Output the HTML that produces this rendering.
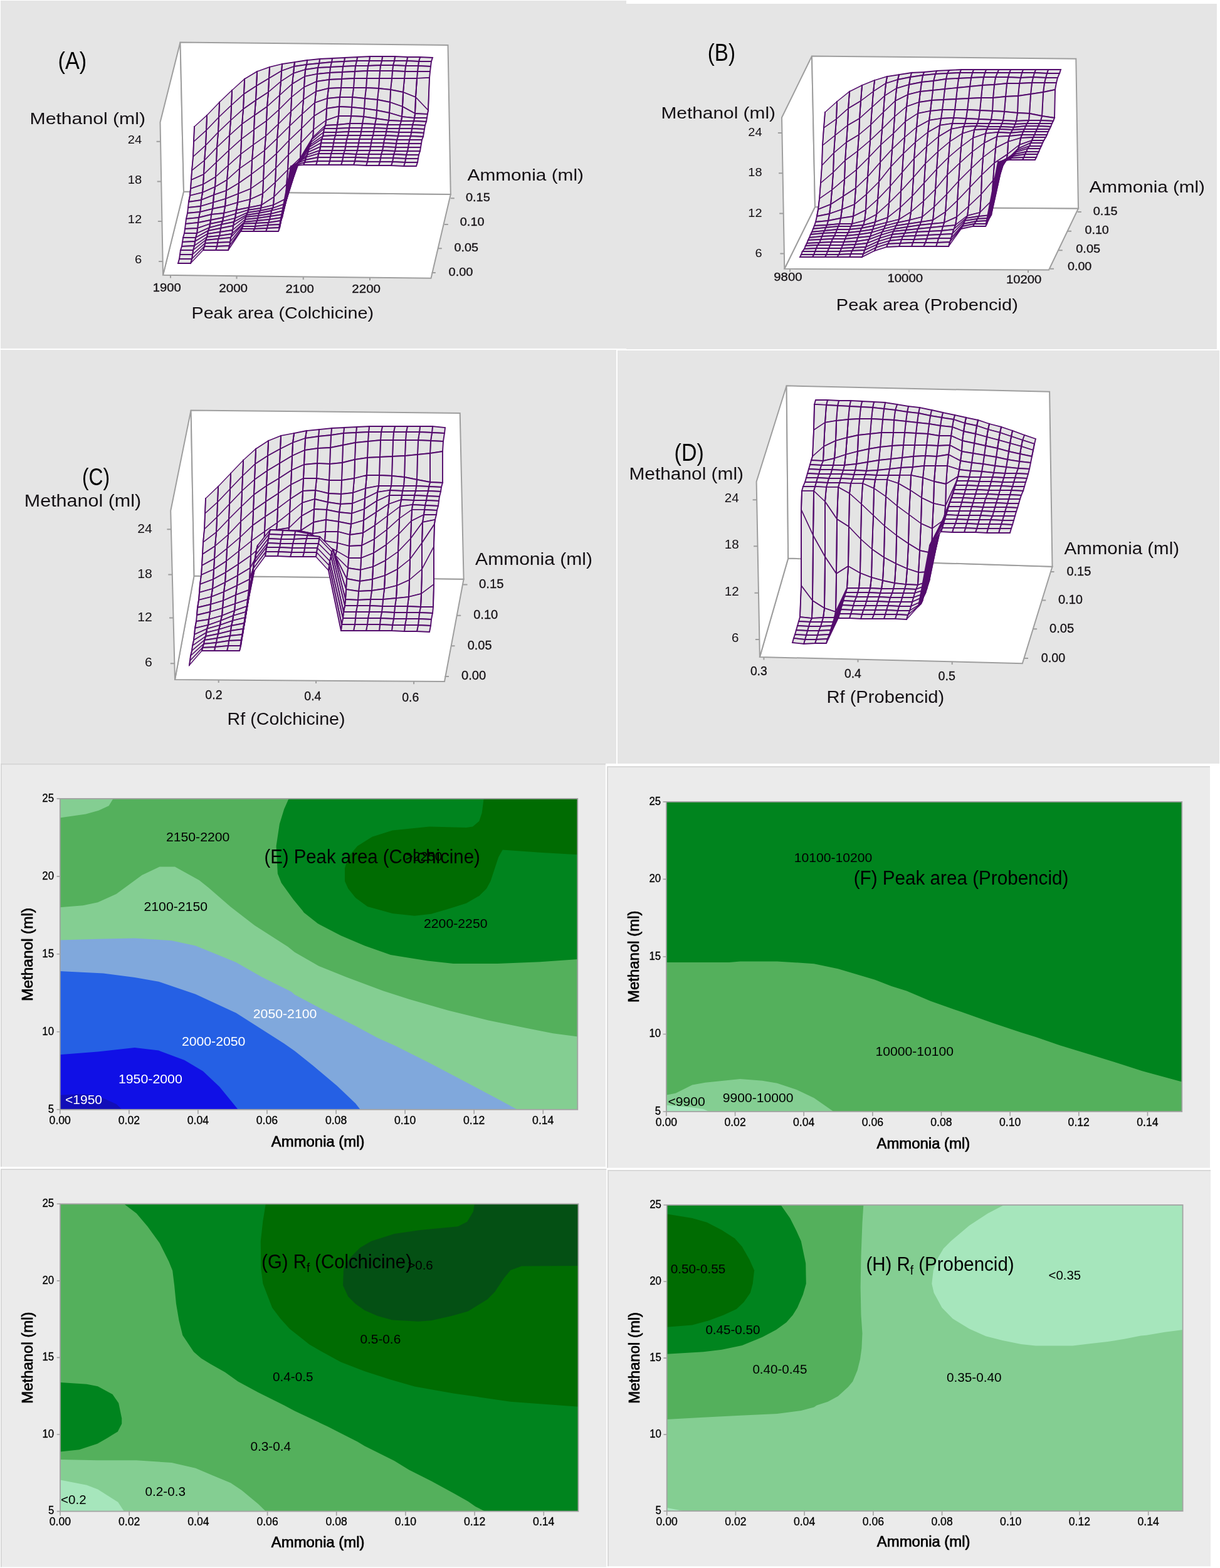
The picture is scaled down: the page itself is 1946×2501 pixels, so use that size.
<!DOCTYPE html>
<html lang="en"><head><meta charset="utf-8"><title>Surface and contour plots</title>
<style>
html,body{margin:0;padding:0;background:#fff}
svg{display:block}
text{font-family:"Liberation Sans", Arial, sans-serif}
</style></head>
<body>
<svg width="1946" height="2501" viewBox="0 0 1946 2501">
<rect width="1946" height="2501" fill="#fff"/>
<rect x="1" y="1" width="998" height="555" fill="#e5e5e5"/>
<g fill="#fff" stroke="#9e9e9e" stroke-width="2" stroke-linejoin="miter"><polygon points="260,438.8 687.5,443.8 718.8,310 293,305.5"/><polygon points="255.5,195 287.5,67.5 293,305.5 260,438.8"/><polygon points="287.5,67.5 714.5,72 718.8,310 293,305.5"/></g>
<text x="203.8" y="228.8" font-size="17.5" textLength="22.5" lengthAdjust="spacingAndGlyphs" fill="#141014">24</text><text x="203.8" y="292.5" font-size="17.5" textLength="22.5" lengthAdjust="spacingAndGlyphs" fill="#141014">18</text><text x="203.8" y="356" font-size="17.5" textLength="22.5" lengthAdjust="spacingAndGlyphs" fill="#141014">12</text><text x="215.1" y="420" font-size="17.5" textLength="11.2" lengthAdjust="spacingAndGlyphs" fill="#141014">6</text><path d="M256.1 225.8h-6.5M257.2 289.5h-6.5M258.4 353h-6.5M259.6 417h-6.5" stroke="#9e9e9e" stroke-width="2" fill="none"/>
<path d="M272 439l0 4.5M377.5 440.2l0 4.5M483.8 441.4l0 4.5M590 442.7l0 4.5" stroke="#9e9e9e" stroke-width="2" fill="none"/>
<path d="M718.8 316.3l6 0M708.8 358l6 0M698.8 396.3l6 0M688.8 435l6 0" stroke="#9e9e9e" stroke-width="2" fill="none"/>
<g stroke="#141014" stroke-width="0.3"><text x="243.8" y="465" font-size="17.5" textLength="45" lengthAdjust="spacingAndGlyphs" fill="#141014">1900</text><text x="349.3" y="465.5" font-size="17.5" textLength="45.7" lengthAdjust="spacingAndGlyphs" fill="#141014">2000</text><text x="455.5" y="467" font-size="17.5" textLength="45.3" lengthAdjust="spacingAndGlyphs" fill="#141014">2100</text><text x="561.3" y="467" font-size="17.5" textLength="45.7" lengthAdjust="spacingAndGlyphs" fill="#141014">2200</text><text x="743" y="321.3" font-size="17.5" textLength="38.8" lengthAdjust="spacingAndGlyphs" fill="#141014">0.15</text><text x="733.8" y="360" font-size="17.5" textLength="38.7" lengthAdjust="spacingAndGlyphs" fill="#141014">0.10</text><text x="724.5" y="401.3" font-size="17.5" textLength="38.5" lengthAdjust="spacingAndGlyphs" fill="#141014">0.05</text><text x="715.5" y="440" font-size="17.5" textLength="39" lengthAdjust="spacingAndGlyphs" fill="#141014">0.00</text></g>
<text x="47.5" y="197.5" font-size="25" textLength="184.5" lengthAdjust="spacingAndGlyphs" fill="#141014">Methanol (ml)</text>
<text x="745.5" y="288" font-size="25" textLength="185.5" lengthAdjust="spacingAndGlyphs" fill="#141014">Ammonia (ml)</text>
<text x="305.5" y="508" font-size="25" textLength="290.5" lengthAdjust="spacingAndGlyphs" fill="#141014">Peak area (Colchicine)</text>
<text x="92.5" y="110" font-size="38" textLength="45.8" lengthAdjust="spacingAndGlyphs">(A)</text>
<g fill="#e4e4e4" stroke="#540c6d" stroke-width="1.9" stroke-linecap="square"><path d="M668 98L688 98L690 92L670 91Z"/><path d="M649 97L668 98L670 91L650 91Z"/><path d="M629 97L649 97L650 91L630 90Z"/><path d="M609 97L629 97L630 90L610 90Z"/><path d="M589 97L609 97L610 90L590 90Z"/><path d="M569 97L589 97L590 90L570 91Z"/><path d="M549 98L569 97L570 91L550 92Z"/><path d="M529 99L549 98L550 92L530 93Z"/><path d="M509 101L529 99L530 93L510 94Z"/><path d="M489 103L509 101L510 94L490 96Z"/><path d="M469 106L489 103L490 96L470 99Z"/><path d="M449 113L469 106L470 99L450 102Z" stroke-width="1.8"/><path d="M449 113L450 102M469 106L470 99"/><path d="M429 125L449 113L450 102L430 107Z" stroke-width="1.6"/><path d="M429 125L430 107M449 113L450 102"/><path d="M409 137L429 125L430 107L410 114Z" stroke-width="1.6"/><path d="M409 137L410 114M429 125L430 107"/><path d="M389 150L409 137L410 114L390 126Z" stroke-width="1.6"/><path d="M389 150L390 126M409 137L410 114"/><path d="M369 168L389 150L390 126L370 144Z" stroke-width="1.4"/><path d="M369 168L370 144M389 150L390 126"/><path d="M349 187L369 168L370 144L350 163Z" stroke-width="1.4"/><path d="M349 187L350 163M369 168L370 144"/><path d="M329 208L349 187L350 163L330 184Z" stroke-width="1.4"/><path d="M329 208L330 184M349 187L350 163"/><path d="M309 226L329 208L330 184L310 202Z" stroke-width="1.4"/><path d="M309 226L310 202M329 208L330 184"/><path d="M667 105L687 106L688 98L668 98Z"/><path d="M647 105L667 105L668 98L649 97Z"/><path d="M627 104L647 105L649 97L629 97Z"/><path d="M607 104L627 104L629 97L609 97Z"/><path d="M587 105L607 104L609 97L589 97Z"/><path d="M567 105L587 105L589 97L569 97Z"/><path d="M547 106L567 105L569 97L549 98Z"/><path d="M527 107L547 106L549 98L529 99Z"/><path d="M507 108L527 107L529 99L509 101Z"/><path d="M487 111L507 108L509 101L489 103Z"/><path d="M468 117L487 111L489 103L469 106Z" stroke-width="1.8"/><path d="M468 117L469 106M487 111L489 103"/><path d="M448 130L468 117L469 106L449 113Z" stroke-width="1.6"/><path d="M448 130L449 113M468 117L469 106"/><path d="M428 147L448 130L449 113L429 125Z" stroke-width="1.5"/><path d="M428 147L429 125M448 130L449 113"/><path d="M408 160L428 147L429 125L409 137Z" stroke-width="1.6"/><path d="M408 160L409 137M428 147L429 125"/><path d="M388 174L408 160L409 137L389 150Z" stroke-width="1.6"/><path d="M388 174L389 150M408 160L409 137"/><path d="M368 192L388 174L389 150L369 168Z" stroke-width="1.4"/><path d="M368 192L369 168M388 174L389 150"/><path d="M348 211L368 192L369 168L349 187Z" stroke-width="1.4"/><path d="M348 211L349 187M368 192L369 168"/><path d="M328 232L348 211L349 187L329 208Z" stroke-width="1.4"/><path d="M328 232L329 208M348 211L349 187"/><path d="M308 250L328 232L329 208L309 226Z" stroke-width="1.4"/><path d="M308 250L309 226M328 232L329 208"/><path d="M666 114L686 114L687 106L667 105Z"/><path d="M646 114L666 114L667 105L647 105Z"/><path d="M626 113L646 114L647 105L627 104Z"/><path d="M606 113L626 113L627 104L607 104Z"/><path d="M586 113L606 113L607 104L587 105Z"/><path d="M566 114L586 113L587 105L567 105Z"/><path d="M546 115L566 114L567 105L547 106Z"/><path d="M526 116L546 115L547 106L527 107Z"/><path d="M506 118L526 116L527 107L507 108Z"/><path d="M486 122L506 118L507 108L487 111Z" stroke-width="1.8"/><path d="M486 122L487 111M506 118L507 108"/><path d="M466 134L486 122L487 111L468 117Z" stroke-width="1.7"/><path d="M466 134L468 117M486 122L487 111"/><path d="M446 152L466 134L468 117L448 130Z" stroke-width="1.4"/><path d="M446 152L448 130M466 134L468 117"/><path d="M426 170L446 152L448 130L428 147Z" stroke-width="1.4"/><path d="M426 170L428 147M446 152L448 130"/><path d="M406 184L426 170L428 147L408 160Z" stroke-width="1.6"/><path d="M406 184L408 160M426 170L428 147"/><path d="M386 198L406 184L408 160L388 174Z" stroke-width="1.6"/><path d="M386 198L388 174M406 184L408 160"/><path d="M366 216L386 198L388 174L368 192Z" stroke-width="1.4"/><path d="M366 216L368 192M386 198L388 174"/><path d="M346 235L366 216L368 192L348 211Z" stroke-width="1.4"/><path d="M346 235L348 211M366 216L368 192"/><path d="M326 256L346 235L348 211L328 232Z" stroke-width="1.4"/><path d="M326 256L328 232M346 235L348 211"/><path d="M306 272L326 256L328 232L308 250Z" stroke-width="1.4"/><path d="M306 272L308 250M326 256L328 232"/><path d="M665 125L685 124L686 114L666 114Z"/><path d="M645 125L665 125L666 114L646 114Z"/><path d="M625 125L645 125L646 114L626 113Z"/><path d="M605 125L625 125L626 113L606 113Z"/><path d="M585 125L605 125L606 113L586 113Z"/><path d="M565 125L585 125L586 113L566 114Z"/><path d="M545 126L565 125L566 114L546 115Z"/><path d="M525 127L545 126L546 115L526 116Z"/><path d="M505 130L525 127L526 116L506 118Z"/><path d="M485 139L505 130L506 118L486 122Z" stroke-width="1.7"/><path d="M485 139L486 122M505 130L506 118"/><path d="M465 155L485 139L486 122L466 134Z" stroke-width="1.5"/><path d="M465 155L466 134M485 139L486 122"/><path d="M445 175L465 155L466 134L446 152Z" stroke-width="1.4"/><path d="M445 175L446 152M465 155L466 134"/><path d="M425 193L445 175L446 152L426 170Z" stroke-width="1.4"/><path d="M425 193L426 170M445 175L446 152"/><path d="M405 207L425 193L426 170L406 184Z" stroke-width="1.6"/><path d="M405 207L406 184M425 193L426 170"/><path d="M385 222L405 207L406 184L386 198Z" stroke-width="1.5"/><path d="M385 222L386 198M405 207L406 184"/><path d="M365 240L385 222L386 198L366 216Z" stroke-width="1.4"/><path d="M365 240L366 216M385 222L386 198"/><path d="M345 259L365 240L366 216L346 235Z" stroke-width="1.4"/><path d="M345 259L346 235M365 240L366 216"/><path d="M325 278L345 259L346 235L326 256Z" stroke-width="1.4"/><path d="M325 278L326 256M345 259L346 235"/><path d="M305 287L325 278L326 256L306 272Z" stroke-width="1.5"/><path d="M305 287L306 272M325 278L326 256"/><path d="M663 155L683 176L685 124L665 125Z" stroke-width="1.4"/><path d="M663 155L665 125M683 176L685 124"/><path d="M643 147L663 155L665 125L645 125Z" stroke-width="1.8"/><path d="M643 147L645 125M663 155L665 125"/><path d="M623 143L643 147L645 125L625 125Z"/><path d="M604 141L623 143L625 125L605 125Z"/><path d="M584 140L604 141L605 125L585 125Z"/><path d="M564 140L584 140L585 125L565 125Z"/><path d="M544 140L564 140L565 125L545 126Z"/><path d="M524 141L544 140L545 126L525 127Z"/><path d="M504 146L524 141L525 127L505 130Z"/><path d="M484 159L504 146L505 130L485 139Z" stroke-width="1.6"/><path d="M484 159L485 139M504 146L505 130"/><path d="M464 178L484 159L485 139L465 155Z" stroke-width="1.4"/><path d="M464 178L465 155M484 159L485 139"/><path d="M444 198L464 178L465 155L445 175Z" stroke-width="1.4"/><path d="M444 198L445 175M464 178L465 155"/><path d="M424 217L444 198L445 175L425 193Z" stroke-width="1.4"/><path d="M424 217L425 193M444 198L445 175"/><path d="M404 231L424 217L425 193L405 207Z" stroke-width="1.5"/><path d="M404 231L405 207M424 217L425 193"/><path d="M384 246L404 231L405 207L385 222Z" stroke-width="1.5"/><path d="M384 246L385 222M404 231L405 207"/><path d="M364 264L384 246L385 222L365 240Z" stroke-width="1.4"/><path d="M364 264L365 240M384 246L385 222"/><path d="M344 282L364 264L365 240L345 259Z" stroke-width="1.4"/><path d="M344 282L345 259M364 264L365 240"/><path d="M324 294L344 282L345 259L325 278Z" stroke-width="1.4"/><path d="M324 294L325 278M344 282L345 259"/><path d="M304 301L324 294L325 278L305 287Z" stroke-width="1.7"/><path d="M304 301L305 287M324 294L325 278"/><path d="M662 181L682 182L683 176L663 155Z" stroke-width="1.4"/><path d="M662 181L663 155M682 182L683 176"/><path d="M642 170L662 181L663 155L643 147Z" stroke-width="1.7"/><path d="M642 170L643 147M662 181L663 155"/><path d="M622 163L642 170L643 147L623 143Z" stroke-width="1.8"/><path d="M622 163L623 143M642 170L643 147"/><path d="M602 159L622 163L623 143L604 141Z"/><path d="M582 157L602 159L604 141L584 140Z"/><path d="M562 155L582 157L584 140L564 140Z"/><path d="M542 155L562 155L564 140L544 140Z"/><path d="M522 157L542 155L544 140L524 141Z"/><path d="M502 164L522 157L524 141L504 146Z" stroke-width="1.8"/><path d="M502 164L504 146M522 157L524 141"/><path d="M482 182L502 164L504 146L484 159Z" stroke-width="1.4"/><path d="M482 182L484 159M502 164L504 146"/><path d="M462 201L482 182L484 159L464 178Z" stroke-width="1.4"/><path d="M462 201L464 178M482 182L484 159"/><path d="M442 221L462 201L464 178L444 198Z" stroke-width="1.4"/><path d="M442 221L444 198M462 201L464 178"/><path d="M422 240L442 221L444 198L424 217Z" stroke-width="1.4"/><path d="M422 240L424 217M442 221L444 198"/><path d="M402 255L422 240L424 217L404 231Z" stroke-width="1.5"/><path d="M402 255L404 231M422 240L424 217"/><path d="M382 269L402 255L404 231L384 246Z" stroke-width="1.5"/><path d="M382 269L384 246M402 255L404 231"/><path d="M362 287L382 269L384 246L364 264Z" stroke-width="1.4"/><path d="M362 287L364 264M382 269L384 246"/><path d="M343 298L362 287L364 264L344 282Z" stroke-width="1.4"/><path d="M343 298L344 282M362 287L364 264"/><path d="M323 307L343 298L344 282L324 294Z" stroke-width="1.6"/><path d="M323 307L324 294M343 298L344 282"/><path d="M303 312L323 307L324 294L304 301Z" stroke-width="1.8"/><path d="M303 312L304 301M323 307L324 294"/><path d="M661 188L681 188L682 182L662 181Z"/><path d="M641 186L661 188L662 181L642 170Z" stroke-width="1.7"/><path d="M641 186L642 170M661 188L662 181"/><path d="M621 180L641 186L642 170L622 163Z" stroke-width="1.8"/><path d="M621 180L622 163M641 186L642 170"/><path d="M601 176L621 180L622 163L602 159Z"/><path d="M581 173L601 176L602 159L582 157Z"/><path d="M561 171L581 173L582 157L562 155Z"/><path d="M541 170L561 171L562 155L542 155Z"/><path d="M521 173L541 170L542 155L522 157Z"/><path d="M501 185L521 173L522 157L502 164Z" stroke-width="1.6"/><path d="M501 185L502 164M521 173L522 157"/><path d="M481 205L501 185L502 164L482 182Z" stroke-width="1.4"/><path d="M481 205L482 182M501 185L502 164"/><path d="M461 224L481 205L482 182L462 201Z" stroke-width="1.4"/><path d="M461 224L462 201M481 205L482 182"/><path d="M441 245L461 224L462 201L442 221Z" stroke-width="1.4"/><path d="M441 245L442 221M461 224L462 201"/><path d="M421 263L441 245L442 221L422 240Z" stroke-width="1.4"/><path d="M421 263L422 240M441 245L442 221"/><path d="M401 278L421 263L422 240L402 255Z" stroke-width="1.5"/><path d="M401 278L402 255M421 263L422 240"/><path d="M381 292L401 278L402 255L382 269Z" stroke-width="1.5"/><path d="M381 292L382 269M401 278L402 255"/><path d="M361 304L381 292L382 269L362 287Z" stroke-width="1.4"/><path d="M361 304L362 287M381 292L382 269"/><path d="M341 311L361 304L362 287L343 298Z" stroke-width="1.7"/><path d="M341 311L343 298M361 304L362 287"/><path d="M321 319L341 311L343 298L323 307Z" stroke-width="1.7"/><path d="M321 319L323 307M341 311L343 298"/><path d="M301 322L321 319L323 307L303 312Z" stroke-width="1.8"/><path d="M301 322L303 312M321 319L323 307"/><path d="M660 193L680 194L681 188L661 188Z"/><path d="M640 193L660 193L661 188L641 186Z"/><path d="M620 192L640 193L641 186L621 180Z" stroke-width="1.8"/><path d="M620 192L621 180M640 193L641 186"/><path d="M600 189L620 192L621 180L601 176Z"/><path d="M580 186L600 189L601 176L581 173Z"/><path d="M560 185L580 186L581 173L561 171Z"/><path d="M540 185L560 185L561 171L541 170Z"/><path d="M520 192L540 185L541 170L521 173Z" stroke-width="1.8"/><path d="M520 192L521 173M540 185L541 170"/><path d="M500 207L520 192L521 173L501 185Z" stroke-width="1.5"/><path d="M500 207L501 185M520 192L521 173"/><path d="M480 228L500 207L501 185L481 205Z" stroke-width="1.4"/><path d="M480 228L481 205M500 207L501 185"/><path d="M460 247L480 228L481 205L461 224Z" stroke-width="1.4"/><path d="M460 247L461 224M480 228L481 205"/><path d="M440 268L460 247L461 224L441 245Z" stroke-width="1.4"/><path d="M440 268L441 245M460 247L461 224"/><path d="M420 287L440 268L441 245L421 263Z" stroke-width="1.4"/><path d="M420 287L421 263M440 268L441 245"/><path d="M400 301L420 287L421 263L401 278Z" stroke-width="1.5"/><path d="M400 301L401 278M420 287L421 263"/><path d="M380 309L400 301L401 278L381 292Z" stroke-width="1.6"/><path d="M380 309L381 292M400 301L401 278"/><path d="M360 317L380 309L381 292L361 304Z" stroke-width="1.7"/><path d="M360 317L361 304M380 309L381 292"/><path d="M340 323L360 317L361 304L341 311Z" stroke-width="1.8"/><path d="M340 323L341 311M360 317L361 304"/><path d="M320 329L340 323L341 311L321 319Z" stroke-width="1.8"/><path d="M320 329L321 319M340 323L341 311"/><path d="M300 331L320 329L321 319L301 322Z"/><path d="M658 199L678 200L680 194L660 193Z"/><path d="M638 199L658 199L660 193L640 193Z"/><path d="M618 199L638 199L640 193L620 192Z"/><path d="M598 198L618 199L620 192L600 189Z"/><path d="M578 197L598 198L600 189L580 186Z"/><path d="M558 197L578 197L580 186L560 185Z"/><path d="M538 199L558 197L560 185L540 185Z"/><path d="M519 200L538 199L540 185L520 192Z" stroke-width="1.8"/><path d="M519 200L520 192M538 199L540 185"/><path d="M499 219L519 200L520 192L500 207Z" stroke-width="1.3"/><path d="M499 219L500 207M519 200L520 192"/><path d="M479 252L499 219L500 207L480 228Z" stroke-width="1.4"/><path d="M479 252L480 228M499 219L500 207"/><path d="M459 271L479 252L480 228L460 247Z" stroke-width="1.4"/><path d="M459 271L460 247M479 252L480 228"/><path d="M439 291L459 271L460 247L440 268Z" stroke-width="1.4"/><path d="M439 291L440 268M459 271L460 247"/><path d="M419 309L439 291L440 268L420 287Z" stroke-width="1.4"/><path d="M419 309L420 287M439 291L440 268"/><path d="M399 318L419 309L420 287L400 301Z" stroke-width="1.5"/><path d="M399 318L400 301M419 309L420 287"/><path d="M379 323L399 318L400 301L380 309Z" stroke-width="1.7"/><path d="M379 323L380 309M399 318L400 301"/><path d="M359 329L379 323L380 309L360 317Z" stroke-width="1.8"/><path d="M359 329L360 317M379 323L380 309"/><path d="M339 333L359 329L360 317L340 323Z" stroke-width="1.8"/><path d="M339 333L340 323M359 329L360 317"/><path d="M319 338L339 333L340 323L320 329Z" stroke-width="1.8"/><path d="M319 338L320 329M339 333L340 323"/><path d="M299 340L319 338L320 329L300 331Z"/><path d="M657 205L677 206L678 200L658 199Z"/><path d="M637 205L657 205L658 199L638 199Z"/><path d="M617 205L637 205L638 199L618 199Z"/><path d="M597 204L617 205L618 199L598 198Z"/><path d="M577 204L597 204L598 198L578 197Z"/><path d="M557 204L577 204L578 197L558 197Z"/><path d="M537 205L557 204L558 197L538 199Z"/><path d="M517 205L537 205L538 199L519 200Z"/><path d="M497 223L517 205L519 200L499 219Z" stroke-width="1.3"/><path d="M497 223L499 219M517 205L519 200"/><path d="M477 260L497 223L499 219L479 252Z" stroke-width="1.6"/><path d="M477 260L479 252M497 223L499 219"/><path d="M457 294L477 260L479 252L459 271Z" stroke-width="1.4"/><path d="M457 294L459 271M477 260L479 252"/><path d="M437 314L457 294L459 271L439 291Z" stroke-width="1.4"/><path d="M437 314L439 291M457 294L459 271"/><path d="M417 327L437 314L439 291L419 309Z" stroke-width="1.4"/><path d="M417 327L419 309M437 314L439 291"/><path d="M397 331L417 327L419 309L399 318Z" stroke-width="1.7"/><path d="M397 331L399 318M417 327L419 309"/><path d="M377 335L397 331L399 318L379 323Z" stroke-width="1.8"/><path d="M377 335L379 323M397 331L399 318"/><path d="M357 340L377 335L379 323L359 329Z" stroke-width="1.8"/><path d="M357 340L359 329M377 335L379 323"/><path d="M337 342L357 340L359 329L339 333Z"/><path d="M317 347L337 342L339 333L319 338Z"/><path d="M297 349L317 347L319 338L299 340Z"/><path d="M656 211L676 212L677 206L657 205Z"/><path d="M636 211L656 211L657 205L637 205Z"/><path d="M616 210L636 211L637 205L617 205Z"/><path d="M596 210L616 210L617 205L597 204Z"/><path d="M576 210L596 210L597 204L577 204Z"/><path d="M556 210L576 210L577 204L557 204Z"/><path d="M536 211L556 210L557 204L537 205Z"/><path d="M516 211L536 211L537 205L517 205Z"/><path d="M496 227L516 211L517 205L497 223Z" stroke-width="1.4"/><path d="M496 227L497 223M516 211L517 205"/><path d="M476 261L496 227L497 223L477 260Z" stroke-width="1.6"/><path d="M476 261L477 260M496 227L497 223" stroke-width="1.8"/><path d="M456 317L476 261L477 260L457 294Z" stroke-width="1.6"/><path d="M456 317L457 294M476 261L477 260"/><path d="M436 327L456 317L457 294L437 314Z" stroke-width="1.4"/><path d="M436 327L437 314M456 317L457 294"/><path d="M416 332L436 327L437 314L417 327Z" stroke-width="1.6"/><path d="M416 332L417 327M436 327L437 314"/><path d="M396 335L416 332L417 327L397 331Z" stroke-width="1.8"/><path d="M396 335L397 331M416 332L417 327"/><path d="M376 341L396 335L397 331L377 335Z" stroke-width="1.8"/><path d="M376 341L377 335M396 335L397 331"/><path d="M356 347L376 341L377 335L357 340Z" stroke-width="1.8"/><path d="M356 347L357 340M376 341L377 335"/><path d="M336 351L356 347L357 340L337 342Z"/><path d="M316 355L336 351L337 342L317 347Z"/><path d="M296 357L316 355L317 347L297 349Z"/><path d="M655 217L675 218L676 212L656 211Z"/><path d="M635 217L655 217L656 211L636 211Z"/><path d="M615 216L635 217L636 211L616 210Z"/><path d="M595 216L615 216L616 210L596 210Z"/><path d="M575 216L595 216L596 210L576 210Z"/><path d="M555 216L575 216L576 210L556 210Z"/><path d="M535 216L555 216L556 210L536 211Z"/><path d="M515 217L535 216L536 211L516 211Z"/><path d="M495 231L515 217L516 211L496 227Z" stroke-width="1.5"/><path d="M495 231L496 227M515 217L516 211"/><path d="M475 261L495 231L496 227L476 261Z" stroke-width="1.6"/><path d="M475 261L476 261M495 231L496 227" stroke-width="1.8"/><path d="M455 325L475 261L476 261L456 317Z" stroke-width="1.8"/><path d="M455 325L456 317M475 261L476 261"/><path d="M435 332L455 325L456 317L436 327Z" stroke-width="1.7"/><path d="M435 332L436 327M455 325L456 317"/><path d="M415 336L435 332L436 327L416 332Z" stroke-width="1.8"/><path d="M395 339L415 336L416 332L396 335Z"/><path d="M375 348L395 339L396 335L376 341Z" stroke-width="1.7"/><path d="M375 348L376 341M395 339L396 335"/><path d="M355 353L375 348L376 341L356 347Z" stroke-width="1.8"/><path d="M355 353L356 347M375 348L376 341"/><path d="M335 357L355 353L356 347L336 351Z" stroke-width="1.8"/><path d="M335 357L336 351M355 353L356 347"/><path d="M315 364L335 357L336 351L316 355Z" stroke-width="1.8"/><path d="M315 364L316 355M335 357L336 351"/><path d="M295 365L315 364L316 355L296 357Z"/><path d="M653 223L673 223L675 218L655 217Z"/><path d="M633 223L653 223L655 217L635 217Z"/><path d="M613 222L633 223L635 217L615 216Z"/><path d="M593 222L613 222L615 216L595 216Z"/><path d="M573 222L593 222L595 216L575 216Z"/><path d="M553 222L573 222L575 216L555 216Z"/><path d="M533 222L553 222L555 216L535 216Z"/><path d="M513 222L533 222L535 216L515 217Z"/><path d="M493 235L513 222L515 217L495 231Z" stroke-width="1.5"/><path d="M493 235L495 231M513 222L515 217"/><path d="M473 262L493 235L495 231L475 261Z" stroke-width="1.5"/><path d="M473 262L475 261M493 235L495 231" stroke-width="1.8"/><path d="M453 331L473 262L475 261L455 325Z" stroke-width="1.8"/><path d="M433 336L453 331L455 325L435 332Z" stroke-width="1.8"/><path d="M413 340L433 336L435 332L415 336Z" stroke-width="1.8"/><path d="M393 343L413 340L415 336L395 339Z"/><path d="M373 354L393 343L395 339L375 348Z" stroke-width="1.7"/><path d="M373 354L375 348M393 343L395 339"/><path d="M353 358L373 354L375 348L355 353Z" stroke-width="1.8"/><path d="M353 358L355 353M373 354L375 348"/><path d="M334 363L353 358L355 353L335 357Z" stroke-width="1.8"/><path d="M334 363L335 357M353 358L355 353"/><path d="M314 372L334 363L335 357L315 364Z" stroke-width="1.7"/><path d="M314 372L315 364M334 363L335 357"/><path d="M294 372L314 372L315 364L295 365Z"/><path d="M652 229L672 229L673 223L653 223Z"/><path d="M632 229L652 229L653 223L633 223Z"/><path d="M612 228L632 229L633 223L613 222Z"/><path d="M592 228L612 228L613 222L593 222Z"/><path d="M572 228L592 228L593 222L573 222Z"/><path d="M552 228L572 228L573 222L553 222Z"/><path d="M532 228L552 228L553 222L533 222Z"/><path d="M512 228L532 228L533 222L513 222Z"/><path d="M492 239L512 228L513 222L493 235Z" stroke-width="1.6"/><path d="M492 239L493 235M512 228L513 222"/><path d="M472 262L492 239L493 235L473 262Z" stroke-width="1.4"/><path d="M472 262L473 262M492 239L493 235" stroke-width="1.8"/><path d="M452 336L472 262L473 262L453 331Z" stroke-width="1.8"/><path d="M432 341L452 336L453 331L433 336Z" stroke-width="1.8"/><path d="M412 344L432 341L433 336L413 340Z"/><path d="M392 346L412 344L413 340L393 343Z"/><path d="M372 360L392 346L393 343L373 354Z" stroke-width="1.6"/><path d="M372 360L373 354M392 346L393 343"/><path d="M352 364L372 360L373 354L353 358Z"/><path d="M332 368L352 364L353 358L334 363Z"/><path d="M312 379L332 368L334 363L314 372Z" stroke-width="1.7"/><path d="M312 379L314 372M332 368L334 363"/><path d="M292 379L312 379L314 372L294 372Z"/><path d="M651 235L671 235L672 229L652 229Z"/><path d="M631 235L651 235L652 229L632 229Z"/><path d="M611 234L631 235L632 229L612 228Z"/><path d="M591 234L611 234L612 228L592 228Z"/><path d="M571 234L591 234L592 228L572 228Z"/><path d="M551 234L571 234L572 228L552 228Z"/><path d="M531 234L551 234L552 228L532 228Z"/><path d="M511 234L531 234L532 228L512 228Z"/><path d="M491 243L511 234L512 228L492 239Z" stroke-width="1.7"/><path d="M491 243L492 239M511 234L512 228"/><path d="M471 263L491 243L492 239L472 262Z" stroke-width="1.4"/><path d="M471 263L472 262M491 243L492 239" stroke-width="1.8"/><path d="M451 342L471 263L472 262L452 336Z" stroke-width="1.8"/><path d="M431 345L451 342L452 336L432 341Z"/><path d="M411 348L431 345L432 341L412 344Z"/><path d="M391 350L411 348L412 344L392 346Z"/><path d="M371 367L391 350L392 346L372 360Z" stroke-width="1.5"/><path d="M371 367L372 360M391 350L392 346"/><path d="M351 370L371 367L372 360L352 364Z"/><path d="M331 373L351 370L352 364L332 368Z"/><path d="M311 385L331 373L332 368L312 379Z" stroke-width="1.6"/><path d="M311 385L312 379M331 373L332 368"/><path d="M291 386L311 385L312 379L292 379Z"/><path d="M650 241L670 241L671 235L651 235Z"/><path d="M630 241L650 241L651 235L631 235Z"/><path d="M610 240L630 241L631 235L611 234Z"/><path d="M590 240L610 240L611 234L591 234Z"/><path d="M570 240L590 240L591 234L571 234Z"/><path d="M550 240L570 240L571 234L551 234Z"/><path d="M530 240L550 240L551 234L531 234Z"/><path d="M510 240L530 240L531 234L511 234Z"/><path d="M490 247L510 240L511 234L491 243Z" stroke-width="1.7"/><path d="M490 247L491 243M510 240L511 234"/><path d="M470 263L490 247L491 243L471 263Z" stroke-width="1.4"/><path d="M470 263L471 263M490 247L491 243" stroke-width="1.8"/><path d="M450 347L470 263L471 263L451 342Z" stroke-width="1.8"/><path d="M430 350L450 347L451 342L431 345Z"/><path d="M410 352L430 350L431 345L411 348Z"/><path d="M390 354L410 352L411 348L391 350Z"/><path d="M370 373L390 354L391 350L371 367Z" stroke-width="1.4"/><path d="M370 373L371 367M390 354L391 350"/><path d="M350 376L370 373L371 367L351 370Z"/><path d="M330 378L350 376L351 370L331 373Z"/><path d="M310 392L330 378L331 373L311 385Z" stroke-width="1.5"/><path d="M310 392L311 385M330 378L331 373"/><path d="M290 393L310 392L311 385L291 386Z"/><path d="M648 247L668 247L670 241L650 241Z"/><path d="M628 246L648 247L650 241L630 241Z"/><path d="M608 246L628 246L630 241L610 240Z"/><path d="M588 246L608 246L610 240L590 240Z"/><path d="M568 246L588 246L590 240L570 240Z"/><path d="M548 245L568 246L570 240L550 240Z"/><path d="M528 245L548 245L550 240L530 240Z"/><path d="M508 245L528 245L530 240L510 240Z"/><path d="M488 251L508 245L510 240L490 247Z" stroke-width="1.8"/><path d="M488 251L490 247M508 245L510 240"/><path d="M468 264L488 251L490 247L470 263Z" stroke-width="1.5"/><path d="M468 264L470 263M488 251L490 247" stroke-width="1.8"/><path d="M448 352L468 264L470 263L450 347Z" stroke-width="1.8"/><path d="M428 355L448 352L450 347L430 350Z"/><path d="M408 356L428 355L430 350L410 352Z"/><path d="M388 357L408 356L410 352L390 354Z"/><path d="M368 379L388 357L390 354L370 373Z" stroke-width="1.4"/><path d="M368 379L370 373M388 357L390 354"/><path d="M348 381L368 379L370 373L350 376Z"/><path d="M328 383L348 381L350 376L330 378Z"/><path d="M308 399L328 383L330 378L310 392Z" stroke-width="1.5"/><path d="M308 399L310 392M328 383L330 378"/><path d="M288 399L308 399L310 392L290 393Z"/><path d="M647 253L667 253L668 247L648 247Z"/><path d="M627 252L647 253L648 247L628 246Z"/><path d="M607 252L627 252L628 246L608 246Z"/><path d="M587 252L607 252L608 246L588 246Z"/><path d="M567 251L587 252L588 246L568 246Z"/><path d="M547 251L567 251L568 246L548 245Z"/><path d="M527 251L547 251L548 245L528 245Z"/><path d="M507 251L527 251L528 245L508 245Z"/><path d="M487 255L507 251L508 245L488 251Z" stroke-width="1.8"/><path d="M487 255L488 251M507 251L508 245"/><path d="M467 264L487 255L488 251L468 264Z" stroke-width="1.6"/><path d="M467 264L468 264M487 255L488 251" stroke-width="1.8"/><path d="M447 358L467 264L468 264L448 352Z"/><path d="M427 359L447 358L448 352L428 355Z"/><path d="M407 361L427 359L428 355L408 356Z"/><path d="M387 361L407 361L408 356L388 357Z"/><path d="M367 386L387 361L388 357L368 379Z" stroke-width="1.4"/><path d="M367 386L368 379M387 361L388 357"/><path d="M347 387L367 386L368 379L348 381Z"/><path d="M327 388L347 387L348 381L328 383Z"/><path d="M307 406L327 388L328 383L308 399Z" stroke-width="1.4"/><path d="M307 406L308 399M327 388L328 383"/><path d="M287 406L307 406L308 399L288 399Z"/><path d="M646 259L666 259L667 253L647 253Z"/><path d="M626 258L646 259L647 253L627 252Z"/><path d="M606 258L626 258L627 252L607 252Z"/><path d="M586 258L606 258L607 252L587 252Z"/><path d="M566 257L586 258L587 252L567 251Z"/><path d="M546 257L566 257L567 251L547 251Z"/><path d="M526 257L546 257L547 251L527 251Z"/><path d="M506 257L526 257L527 251L507 251Z"/><path d="M486 259L506 257L507 251L487 255Z"/><path d="M466 265L486 259L487 255L467 264Z" stroke-width="1.7"/><path d="M466 265L467 264M486 259L487 255" stroke-width="1.8"/><path d="M446 363L466 265L467 264L447 358Z"/><path d="M426 364L446 363L447 358L427 359Z"/><path d="M406 365L426 364L427 359L407 361Z"/><path d="M386 365L406 365L407 361L387 361Z"/><path d="M366 392L386 365L387 361L367 386Z" stroke-width="1.5"/><path d="M366 392L367 386M386 365L387 361"/><path d="M346 393L366 392L367 386L347 387Z"/><path d="M326 393L346 393L347 387L327 388Z"/><path d="M306 413L326 393L327 388L307 406Z" stroke-width="1.4"/><path d="M306 413L307 406M326 393L327 388"/><path d="M286 413L306 413L307 406L287 406Z"/><path d="M644 265L664 265L666 259L646 259Z"/><path d="M624 264L644 265L646 259L626 258Z"/><path d="M604 264L624 264L626 258L606 258Z"/><path d="M584 264L604 264L606 258L586 258Z"/><path d="M564 263L584 264L586 258L566 257Z"/><path d="M544 263L564 263L566 257L546 257Z"/><path d="M524 263L544 263L546 257L526 257Z"/><path d="M504 263L524 263L526 257L506 257Z"/><path d="M484 263L504 263L506 257L486 259Z"/><path d="M464 265L484 263L486 259L466 265Z" stroke-width="1.8"/><path d="M444 369L464 265L466 265L446 363Z"/><path d="M424 369L444 369L446 363L426 364Z"/><path d="M404 369L424 369L426 364L406 365Z"/><path d="M384 369L404 369L406 365L386 365Z"/><path d="M364 399L384 369L386 365L366 392Z" stroke-width="1.5"/><path d="M364 399L366 392M384 369L386 365"/><path d="M344 399L364 399L366 392L346 393Z"/><path d="M324 399L344 399L346 393L326 393Z"/><path d="M304 420L324 399L326 393L306 413Z" stroke-width="1.4"/><path d="M304 420L306 413M324 399L326 393"/><path d="M284 420L304 420L306 413L286 413Z"/></g>
<rect x="999" y="6" width="942" height="551" fill="#e5e5e5"/>
<g fill="#fff" stroke="#9e9e9e" stroke-width="2" stroke-linejoin="miter"><polygon points="1251.3,428.8 1673,430.5 1720,332.5 1300,330"/><polygon points="1247,187.5 1295,89.5 1300,330 1251.3,428.8"/><polygon points="1295,89.5 1716.3,93.8 1720,332.5 1300,330"/></g>
<text x="1193.3" y="217" font-size="17.5" textLength="22.2" lengthAdjust="spacingAndGlyphs" fill="#141014">24</text><text x="1193.3" y="281.3" font-size="17.5" textLength="22.2" lengthAdjust="spacingAndGlyphs" fill="#141014">18</text><text x="1193.3" y="345.5" font-size="17.5" textLength="22.2" lengthAdjust="spacingAndGlyphs" fill="#141014">12</text><text x="1204.4" y="409.5" font-size="17.5" textLength="11.1" lengthAdjust="spacingAndGlyphs" fill="#141014">6</text><path d="M1247.4 212h-6.5M1248.6 276.3h-6.5M1249.7 340.5h-6.5M1250.9 404.5h-6.5" stroke="#9e9e9e" stroke-width="2" fill="none"/>
<path d="M1260 429l0 4.5M1450 429.7l0 4.5M1640 430.4l0 4.5" stroke="#9e9e9e" stroke-width="2" fill="none"/>
<path d="M1718.8 338l6 0M1703 368.8l6 0M1688.8 399.3l6 0M1675 428.8l6 0" stroke="#9e9e9e" stroke-width="2" fill="none"/>
<g stroke="#141014" stroke-width="0.3"><text x="1234.3" y="447.5" font-size="17.5" textLength="45.2" lengthAdjust="spacingAndGlyphs" fill="#141014">9800</text><text x="1415.5" y="450" font-size="17.5" textLength="56.5" lengthAdjust="spacingAndGlyphs" fill="#141014">10000</text><text x="1605" y="452" font-size="17.5" textLength="56.3" lengthAdjust="spacingAndGlyphs" fill="#141014">10200</text><text x="1743.8" y="342.5" font-size="17.5" textLength="38.7" lengthAdjust="spacingAndGlyphs" fill="#141014">0.15</text><text x="1730.5" y="372.5" font-size="17.5" textLength="38.3" lengthAdjust="spacingAndGlyphs" fill="#141014">0.10</text><text x="1716.3" y="403" font-size="17.5" textLength="38.7" lengthAdjust="spacingAndGlyphs" fill="#141014">0.05</text><text x="1703" y="431.3" font-size="17.5" textLength="38.3" lengthAdjust="spacingAndGlyphs" fill="#141014">0.00</text></g>
<text x="1054.5" y="188.8" font-size="25" textLength="182.5" lengthAdjust="spacingAndGlyphs" fill="#141014">Methanol (ml)</text>
<text x="1737.5" y="307" font-size="25" textLength="184.5" lengthAdjust="spacingAndGlyphs" fill="#141014">Ammonia (ml)</text>
<text x="1333.8" y="495" font-size="25" textLength="290" lengthAdjust="spacingAndGlyphs" fill="#141014">Peak area (Probencid)</text>
<text x="1128.8" y="97" font-size="38" textLength="44.2" lengthAdjust="spacingAndGlyphs">(B)</text>
<g fill="#e4e4e4" stroke="#540c6d" stroke-width="1.9" stroke-linecap="square"><path d="M1670 117L1690 117L1692 111L1672 111Z"/><path d="M1650 116L1670 117L1672 111L1652 111Z"/><path d="M1630 116L1650 116L1652 111L1632 111Z"/><path d="M1610 116L1630 116L1632 111L1612 111Z"/><path d="M1591 116L1610 116L1612 111L1593 111Z"/><path d="M1571 116L1591 116L1593 111L1573 111Z"/><path d="M1551 116L1571 116L1573 111L1553 111Z"/><path d="M1531 116L1551 116L1553 111L1533 111Z"/><path d="M1511 117L1531 116L1533 111L1514 112Z"/><path d="M1492 118L1511 117L1514 112L1494 113Z"/><path d="M1472 120L1492 118L1494 113L1474 115Z"/><path d="M1452 123L1472 120L1474 115L1454 116Z"/><path d="M1432 127L1452 123L1454 116L1434 119Z"/><path d="M1413 133L1432 127L1434 119L1415 122Z" stroke-width="1.8"/><path d="M1413 133L1415 122M1432 127L1434 119"/><path d="M1393 146L1413 133L1415 122L1395 128Z" stroke-width="1.6"/><path d="M1393 146L1395 128M1413 133L1415 122"/><path d="M1373 161L1393 146L1395 128L1375 136Z" stroke-width="1.5"/><path d="M1373 161L1375 136M1393 146L1395 128"/><path d="M1353 173L1373 161L1375 136L1355 146Z" stroke-width="1.6"/><path d="M1353 173L1355 146M1373 161L1375 136"/><path d="M1334 190L1353 173L1355 146L1335 162Z" stroke-width="1.5"/><path d="M1334 190L1335 162M1353 173L1355 146"/><path d="M1314 204L1334 190L1335 162L1316 179Z" stroke-width="1.4"/><path d="M1314 204L1316 179M1334 190L1335 162"/><path d="M1668 124L1687 124L1690 117L1670 117Z"/><path d="M1648 123L1668 124L1670 117L1650 116Z"/><path d="M1628 124L1648 123L1650 116L1630 116Z"/><path d="M1608 123L1628 124L1630 116L1610 116Z"/><path d="M1588 123L1608 123L1610 116L1591 116Z"/><path d="M1569 123L1588 123L1591 116L1571 116Z"/><path d="M1549 124L1569 123L1571 116L1551 116Z"/><path d="M1529 125L1549 124L1551 116L1531 116Z"/><path d="M1509 126L1529 125L1531 116L1511 117Z"/><path d="M1489 129L1509 126L1511 117L1492 118Z"/><path d="M1470 131L1489 129L1492 118L1472 120Z"/><path d="M1450 135L1470 131L1472 120L1452 123Z"/><path d="M1430 141L1450 135L1452 123L1432 127Z" stroke-width="1.8"/><path d="M1430 141L1432 127M1450 135L1452 123"/><path d="M1411 153L1430 141L1432 127L1413 133Z" stroke-width="1.6"/><path d="M1411 153L1413 133M1430 141L1432 127"/><path d="M1391 171L1411 153L1413 133L1393 146Z" stroke-width="1.4"/><path d="M1391 171L1393 146M1411 153L1413 133"/><path d="M1371 189L1391 171L1393 146L1373 161Z" stroke-width="1.4"/><path d="M1371 189L1373 161M1391 171L1393 146"/><path d="M1352 200L1371 189L1373 161L1353 173Z" stroke-width="1.6"/><path d="M1352 200L1353 173M1371 189L1373 161"/><path d="M1332 216L1352 200L1353 173L1334 190Z" stroke-width="1.5"/><path d="M1332 216L1334 190M1352 200L1353 173"/><path d="M1312 232L1332 216L1334 190L1314 204Z" stroke-width="1.4"/><path d="M1312 232L1314 204M1332 216L1334 190"/><path d="M1666 132L1685 132L1687 124L1668 124Z"/><path d="M1646 132L1666 132L1668 124L1648 123Z"/><path d="M1626 133L1646 132L1648 123L1628 124Z"/><path d="M1606 133L1626 133L1628 124L1608 123Z"/><path d="M1586 135L1606 133L1608 123L1588 123Z"/><path d="M1567 136L1586 135L1588 123L1569 123Z"/><path d="M1547 138L1567 136L1569 123L1549 124Z"/><path d="M1527 140L1547 138L1549 124L1529 125Z"/><path d="M1507 142L1527 140L1529 125L1509 126Z"/><path d="M1488 144L1507 142L1509 126L1489 129Z"/><path d="M1468 146L1488 144L1489 129L1470 131Z"/><path d="M1448 151L1468 146L1470 131L1450 135Z"/><path d="M1428 161L1448 151L1450 135L1430 141Z" stroke-width="1.7"/><path d="M1428 161L1430 141M1448 151L1450 135"/><path d="M1409 179L1428 161L1430 141L1411 153Z" stroke-width="1.4"/><path d="M1409 179L1411 153M1428 161L1430 141"/><path d="M1389 199L1409 179L1411 153L1391 171Z" stroke-width="1.4"/><path d="M1389 199L1391 171M1409 179L1411 153"/><path d="M1370 215L1389 199L1391 171L1371 189Z" stroke-width="1.4"/><path d="M1370 215L1371 189M1389 199L1391 171"/><path d="M1350 227L1370 215L1371 189L1352 200Z" stroke-width="1.6"/><path d="M1350 227L1352 200M1370 215L1371 189"/><path d="M1330 244L1350 227L1352 200L1332 216Z" stroke-width="1.4"/><path d="M1330 244L1332 216M1350 227L1352 200"/><path d="M1311 264L1330 244L1332 216L1312 232Z" stroke-width="1.3"/><path d="M1311 264L1312 232M1330 244L1332 216"/><path d="M1664 147L1683 143L1685 132L1666 132Z"/><path d="M1644 150L1664 147L1666 132L1646 132Z"/><path d="M1624 153L1644 150L1646 132L1626 133Z"/><path d="M1604 154L1624 153L1626 133L1606 133Z"/><path d="M1584 156L1604 154L1606 133L1586 135Z"/><path d="M1565 156L1584 156L1586 135L1567 136Z"/><path d="M1545 157L1565 156L1567 136L1547 138Z"/><path d="M1525 158L1545 157L1547 138L1527 140Z"/><path d="M1505 159L1525 158L1527 140L1507 142Z"/><path d="M1486 160L1505 159L1507 142L1488 144Z"/><path d="M1466 163L1486 160L1488 144L1468 146Z"/><path d="M1446 170L1466 163L1468 146L1448 151Z" stroke-width="1.8"/><path d="M1446 170L1448 151M1466 163L1468 146"/><path d="M1427 186L1446 170L1448 151L1428 161Z" stroke-width="1.5"/><path d="M1427 186L1428 161M1446 170L1448 151"/><path d="M1407 206L1427 186L1428 161L1409 179Z" stroke-width="1.4"/><path d="M1407 206L1409 179M1427 186L1428 161"/><path d="M1388 224L1407 206L1409 179L1389 199Z" stroke-width="1.4"/><path d="M1388 224L1389 199M1407 206L1409 179"/><path d="M1368 241L1388 224L1389 199L1370 215Z" stroke-width="1.4"/><path d="M1368 241L1370 215M1388 224L1389 199"/><path d="M1348 256L1368 241L1370 215L1350 227Z" stroke-width="1.5"/><path d="M1348 256L1350 227M1368 241L1370 215"/><path d="M1329 275L1348 256L1350 227L1330 244Z" stroke-width="1.4"/><path d="M1329 275L1330 244M1348 256L1350 227"/><path d="M1309 292L1329 275L1330 244L1311 264Z" stroke-width="1.3"/><path d="M1309 292L1311 264M1329 275L1330 244"/><path d="M1662 185L1682 188L1683 143L1664 147Z"/><path d="M1642 181L1662 185L1664 147L1644 150Z"/><path d="M1623 180L1642 181L1644 150L1624 153Z"/><path d="M1602 178L1623 180L1624 153L1604 154Z"/><path d="M1583 177L1602 178L1604 154L1584 156Z"/><path d="M1563 176L1583 177L1584 156L1565 156Z"/><path d="M1543 175L1563 176L1565 156L1545 157Z"/><path d="M1523 175L1543 175L1545 157L1525 158Z"/><path d="M1503 175L1523 175L1525 158L1505 159Z"/><path d="M1484 177L1503 175L1505 159L1486 160Z"/><path d="M1464 181L1484 177L1486 160L1466 163Z" stroke-width="1.8"/><path d="M1464 181L1466 163M1484 177L1486 160"/><path d="M1444 194L1464 181L1466 163L1446 170Z" stroke-width="1.6"/><path d="M1444 194L1446 170M1464 181L1466 163"/><path d="M1425 213L1444 194L1446 170L1427 186Z" stroke-width="1.4"/><path d="M1425 213L1427 186M1444 194L1446 170"/><path d="M1405 231L1425 213L1427 186L1407 206Z" stroke-width="1.4"/><path d="M1405 231L1407 206M1425 213L1427 186"/><path d="M1386 251L1405 231L1407 206L1388 224Z" stroke-width="1.4"/><path d="M1386 251L1388 224M1405 231L1407 206"/><path d="M1366 271L1386 251L1388 224L1368 241Z" stroke-width="1.4"/><path d="M1366 271L1368 241M1386 251L1388 224"/><path d="M1347 286L1366 271L1368 241L1348 256Z" stroke-width="1.5"/><path d="M1347 286L1348 256M1366 271L1368 241"/><path d="M1327 303L1347 286L1348 256L1329 275Z" stroke-width="1.4"/><path d="M1327 303L1329 275M1347 286L1348 256"/><path d="M1307 317L1327 303L1329 275L1309 292Z" stroke-width="1.4"/><path d="M1307 317L1309 292M1327 303L1329 275"/><path d="M1660 192L1680 193L1682 188L1662 185Z"/><path d="M1641 192L1660 192L1662 185L1642 181Z"/><path d="M1621 193L1641 192L1642 181L1623 180Z"/><path d="M1600 192L1621 193L1623 180L1602 178Z"/><path d="M1581 191L1600 192L1602 178L1583 177Z"/><path d="M1561 190L1581 191L1583 177L1563 176Z"/><path d="M1541 189L1561 190L1563 176L1543 175Z"/><path d="M1521 188L1541 189L1543 175L1523 175Z"/><path d="M1501 189L1521 188L1523 175L1503 175Z"/><path d="M1482 192L1501 189L1503 175L1484 177Z"/><path d="M1462 203L1482 192L1484 177L1464 181Z" stroke-width="1.7"/><path d="M1462 203L1464 181M1482 192L1484 177"/><path d="M1443 219L1462 203L1464 181L1444 194Z" stroke-width="1.4"/><path d="M1443 219L1444 194M1462 203L1464 181"/><path d="M1423 238L1443 219L1444 194L1425 213Z" stroke-width="1.4"/><path d="M1423 238L1425 213M1443 219L1444 194"/><path d="M1404 259L1423 238L1425 213L1405 231Z" stroke-width="1.4"/><path d="M1404 259L1405 231M1423 238L1425 213"/><path d="M1384 282L1404 259L1405 231L1386 251Z" stroke-width="1.4"/><path d="M1384 282L1386 251M1404 259L1405 231"/><path d="M1365 300L1384 282L1386 251L1366 271Z" stroke-width="1.4"/><path d="M1365 300L1366 271M1384 282L1386 251"/><path d="M1345 313L1365 300L1366 271L1347 286Z" stroke-width="1.5"/><path d="M1345 313L1347 286M1365 300L1366 271"/><path d="M1325 326L1345 313L1347 286L1327 303Z" stroke-width="1.5"/><path d="M1325 326L1327 303M1345 313L1347 286"/><path d="M1305 334L1325 326L1327 303L1307 317Z" stroke-width="1.5"/><path d="M1305 334L1307 317M1325 326L1327 303"/><path d="M1658 197L1678 197L1680 193L1660 192Z"/><path d="M1638 197L1658 197L1660 192L1641 192Z"/><path d="M1619 198L1638 197L1641 192L1621 193Z"/><path d="M1598 197L1619 198L1621 193L1600 192Z"/><path d="M1578 197L1598 197L1600 192L1581 191Z"/><path d="M1559 197L1578 197L1581 191L1561 190Z"/><path d="M1539 197L1559 197L1561 190L1541 189Z"/><path d="M1519 197L1539 197L1541 189L1521 188Z"/><path d="M1499 200L1519 197L1521 188L1501 189Z"/><path d="M1480 211L1499 200L1501 189L1482 192Z" stroke-width="1.7"/><path d="M1480 211L1482 192M1499 200L1501 189"/><path d="M1460 227L1480 211L1482 192L1462 203Z" stroke-width="1.5"/><path d="M1460 227L1462 203M1480 211L1482 192"/><path d="M1441 245L1460 227L1462 203L1443 219Z" stroke-width="1.4"/><path d="M1441 245L1443 219M1460 227L1462 203"/><path d="M1421 266L1441 245L1443 219L1423 238Z" stroke-width="1.4"/><path d="M1421 266L1423 238M1441 245L1443 219"/><path d="M1402 290L1421 266L1423 238L1404 259Z" stroke-width="1.4"/><path d="M1402 290L1404 259M1421 266L1423 238"/><path d="M1382 310L1402 290L1404 259L1384 282Z" stroke-width="1.4"/><path d="M1382 310L1384 282M1402 290L1404 259"/><path d="M1363 326L1382 310L1384 282L1365 300Z" stroke-width="1.4"/><path d="M1363 326L1365 300M1382 310L1384 282"/><path d="M1343 334L1363 326L1365 300L1345 313Z" stroke-width="1.6"/><path d="M1343 334L1345 313M1363 326L1365 300"/><path d="M1323 341L1343 334L1345 313L1325 326Z" stroke-width="1.6"/><path d="M1323 341L1325 326M1343 334L1345 313"/><path d="M1303 345L1323 341L1325 326L1305 334Z" stroke-width="1.8"/><path d="M1303 345L1305 334M1323 341L1325 326"/><path d="M1656 201L1676 202L1678 197L1658 197Z"/><path d="M1636 201L1656 201L1658 197L1638 197Z"/><path d="M1617 203L1636 201L1638 197L1619 198Z"/><path d="M1596 202L1617 203L1619 198L1598 197Z"/><path d="M1576 202L1596 202L1598 197L1578 197Z"/><path d="M1557 201L1576 202L1578 197L1559 197Z"/><path d="M1537 202L1557 201L1559 197L1539 197Z"/><path d="M1517 206L1537 202L1539 197L1519 197Z"/><path d="M1497 218L1517 206L1519 197L1499 200Z" stroke-width="1.6"/><path d="M1497 218L1499 200M1517 206L1519 197"/><path d="M1478 234L1497 218L1499 200L1480 211Z" stroke-width="1.5"/><path d="M1478 234L1480 211M1497 218L1499 200"/><path d="M1458 253L1478 234L1480 211L1460 227Z" stroke-width="1.4"/><path d="M1458 253L1460 227M1478 234L1480 211"/><path d="M1439 275L1458 253L1460 227L1441 245Z" stroke-width="1.4"/><path d="M1439 275L1441 245M1458 253L1460 227"/><path d="M1420 297L1439 275L1441 245L1421 266Z" stroke-width="1.4"/><path d="M1420 297L1421 266M1439 275L1441 245"/><path d="M1400 318L1420 297L1421 266L1402 290Z" stroke-width="1.4"/><path d="M1400 318L1402 290M1420 297L1421 266"/><path d="M1381 335L1400 318L1402 290L1382 310Z" stroke-width="1.4"/><path d="M1381 335L1382 310M1400 318L1402 290"/><path d="M1361 345L1381 335L1382 310L1363 326Z" stroke-width="1.5"/><path d="M1361 345L1363 326M1381 335L1382 310"/><path d="M1341 348L1361 345L1363 326L1343 334Z" stroke-width="1.7"/><path d="M1341 348L1343 334M1361 345L1363 326"/><path d="M1321 352L1341 348L1343 334L1323 341Z" stroke-width="1.8"/><path d="M1321 352L1323 341M1341 348L1343 334"/><path d="M1301 354L1321 352L1323 341L1303 345Z"/><path d="M1654 206L1674 206L1676 202L1656 201Z"/><path d="M1634 206L1654 206L1656 201L1636 201Z"/><path d="M1615 207L1634 206L1636 201L1617 203Z"/><path d="M1594 206L1615 207L1617 203L1596 202Z"/><path d="M1574 206L1594 206L1596 202L1576 202Z"/><path d="M1554 207L1574 206L1576 202L1557 201Z"/><path d="M1535 213L1554 207L1557 201L1537 202Z" stroke-width="1.8"/><path d="M1535 213L1537 202M1554 207L1557 201"/><path d="M1515 226L1535 213L1537 202L1517 206Z" stroke-width="1.6"/><path d="M1515 226L1517 206M1535 213L1537 202"/><path d="M1496 242L1515 226L1517 206L1497 218Z" stroke-width="1.5"/><path d="M1496 242L1497 218M1515 226L1517 206"/><path d="M1476 261L1496 242L1497 218L1478 234Z" stroke-width="1.3"/><path d="M1476 261L1478 234M1496 242L1497 218"/><path d="M1457 283L1476 261L1478 234L1458 253Z" stroke-width="1.4"/><path d="M1457 283L1458 253M1476 261L1478 234"/><path d="M1437 305L1457 283L1458 253L1439 275Z" stroke-width="1.4"/><path d="M1437 305L1439 275M1457 283L1458 253"/><path d="M1418 324L1437 305L1439 275L1420 297Z" stroke-width="1.3"/><path d="M1418 324L1420 297M1437 305L1439 275"/><path d="M1398 342L1418 324L1420 297L1400 318Z" stroke-width="1.4"/><path d="M1398 342L1400 318M1418 324L1420 297"/><path d="M1379 352L1398 342L1400 318L1381 335Z" stroke-width="1.4"/><path d="M1379 352L1381 335M1398 342L1400 318"/><path d="M1359 357L1379 352L1381 335L1361 345Z" stroke-width="1.7"/><path d="M1359 357L1361 345M1379 352L1381 335"/><path d="M1339 357L1359 357L1361 345L1341 348Z"/><path d="M1319 359L1339 357L1341 348L1321 352Z"/><path d="M1299 360L1319 359L1321 352L1301 354Z"/><path d="M1652 210L1672 210L1674 206L1654 206Z"/><path d="M1632 210L1652 210L1654 206L1634 206Z"/><path d="M1612 212L1632 210L1634 206L1615 207Z"/><path d="M1592 211L1612 212L1615 207L1594 206Z"/><path d="M1572 213L1592 211L1594 206L1574 206Z"/><path d="M1552 220L1572 213L1574 206L1554 207Z" stroke-width="1.8"/><path d="M1552 220L1554 207M1572 213L1574 206"/><path d="M1533 234L1552 220L1554 207L1535 213Z" stroke-width="1.5"/><path d="M1533 234L1535 213M1552 220L1554 207"/><path d="M1513 251L1533 234L1535 213L1515 226Z" stroke-width="1.4"/><path d="M1513 251L1515 226M1533 234L1535 213"/><path d="M1494 270L1513 251L1515 226L1496 242Z" stroke-width="1.4"/><path d="M1494 270L1496 242M1513 251L1515 226"/><path d="M1474 292L1494 270L1496 242L1476 261Z" stroke-width="1.3"/><path d="M1474 292L1476 261M1494 270L1496 242"/><path d="M1455 313L1474 292L1476 261L1457 283Z" stroke-width="1.4"/><path d="M1455 313L1457 283M1474 292L1476 261"/><path d="M1436 331L1455 313L1457 283L1437 305Z" stroke-width="1.4"/><path d="M1436 331L1437 305M1455 313L1457 283"/><path d="M1416 347L1436 331L1437 305L1418 324Z" stroke-width="1.3"/><path d="M1416 347L1418 324M1436 331L1437 305"/><path d="M1396 354L1416 347L1418 324L1398 342Z" stroke-width="1.4"/><path d="M1396 354L1398 342M1416 347L1418 324"/><path d="M1377 359L1396 354L1398 342L1379 352Z" stroke-width="1.7"/><path d="M1377 359L1379 352M1396 354L1398 342"/><path d="M1357 361L1377 359L1379 352L1359 357Z" stroke-width="1.8"/><path d="M1337 361L1357 361L1359 357L1339 357Z"/><path d="M1317 363L1337 361L1339 357L1319 359Z"/><path d="M1297 365L1317 363L1319 359L1299 360Z"/><path d="M1650 215L1670 215L1672 210L1652 210Z"/><path d="M1630 215L1650 215L1652 210L1632 210Z"/><path d="M1610 217L1630 215L1632 210L1612 212Z"/><path d="M1590 218L1610 217L1612 212L1592 211Z"/><path d="M1570 228L1590 218L1592 211L1572 213Z" stroke-width="1.7"/><path d="M1570 228L1572 213M1590 218L1592 211"/><path d="M1551 242L1570 228L1572 213L1552 220Z" stroke-width="1.5"/><path d="M1551 242L1552 220M1570 228L1572 213"/><path d="M1531 260L1551 242L1552 220L1533 234Z" stroke-width="1.4"/><path d="M1531 260L1533 234M1551 242L1552 220"/><path d="M1511 279L1531 260L1533 234L1513 251Z" stroke-width="1.4"/><path d="M1511 279L1513 251M1531 260L1533 234"/><path d="M1492 302L1511 279L1513 251L1494 270Z" stroke-width="1.4"/><path d="M1492 302L1494 270M1511 279L1513 251"/><path d="M1473 321L1492 302L1494 270L1474 292Z" stroke-width="1.3"/><path d="M1473 321L1474 292M1492 302L1494 270"/><path d="M1453 338L1473 321L1474 292L1455 313Z" stroke-width="1.4"/><path d="M1453 338L1455 313M1473 321L1474 292"/><path d="M1434 350L1453 338L1455 313L1436 331Z" stroke-width="1.4"/><path d="M1434 350L1436 331M1453 338L1455 313"/><path d="M1414 355L1434 350L1436 331L1416 347Z" stroke-width="1.5"/><path d="M1414 355L1416 347M1434 350L1436 331"/><path d="M1394 360L1414 355L1416 347L1396 354Z" stroke-width="1.8"/><path d="M1374 364L1394 360L1396 354L1377 359Z"/><path d="M1355 366L1374 364L1377 359L1357 361Z"/><path d="M1335 366L1355 366L1357 361L1337 361Z"/><path d="M1315 368L1335 366L1337 361L1317 363Z"/><path d="M1295 370L1315 368L1317 363L1297 365Z"/><path d="M1648 219L1668 219L1670 215L1650 215Z"/><path d="M1628 220L1648 219L1650 215L1630 215Z"/><path d="M1608 226L1628 220L1630 215L1610 217Z" stroke-width="1.8"/><path d="M1608 226L1610 217M1628 220L1630 215"/><path d="M1588 236L1608 226L1610 217L1590 218Z" stroke-width="1.7"/><path d="M1588 236L1590 218M1608 226L1610 217"/><path d="M1568 251L1588 236L1590 218L1570 228Z" stroke-width="1.5"/><path d="M1568 251L1570 228M1588 236L1590 218"/><path d="M1549 269L1568 251L1570 228L1551 242Z" stroke-width="1.4"/><path d="M1549 269L1551 242M1568 251L1570 228"/><path d="M1529 289L1549 269L1551 242L1531 260Z" stroke-width="1.4"/><path d="M1529 289L1531 260M1549 269L1551 242"/><path d="M1510 310L1529 289L1531 260L1511 279Z" stroke-width="1.4"/><path d="M1510 310L1511 279M1529 289L1531 260"/><path d="M1490 330L1510 310L1511 279L1492 302Z" stroke-width="1.4"/><path d="M1490 330L1492 302M1510 310L1511 279"/><path d="M1471 346L1490 330L1492 302L1473 321Z" stroke-width="1.3"/><path d="M1471 346L1473 321M1490 330L1492 302"/><path d="M1451 351L1471 346L1473 321L1453 338Z" stroke-width="1.4"/><path d="M1451 351L1453 338M1471 346L1473 321"/><path d="M1432 355L1451 351L1453 338L1434 350Z" stroke-width="1.6"/><path d="M1432 355L1434 350M1451 351L1453 338"/><path d="M1412 360L1432 355L1434 350L1414 355Z" stroke-width="1.8"/><path d="M1392 366L1412 360L1414 355L1394 360Z" stroke-width="1.8"/><path d="M1372 369L1392 366L1394 360L1374 364Z"/><path d="M1353 371L1372 369L1374 364L1355 366Z"/><path d="M1333 371L1353 371L1355 366L1335 366Z"/><path d="M1313 372L1333 371L1335 366L1315 368Z"/><path d="M1293 374L1313 372L1315 368L1295 370Z"/><path d="M1646 224L1665 224L1668 219L1648 219Z"/><path d="M1626 231L1646 224L1648 219L1628 220Z" stroke-width="1.8"/><path d="M1626 231L1628 220M1646 224L1648 219"/><path d="M1607 246L1626 231L1628 220L1608 226Z" stroke-width="1.5"/><path d="M1607 246L1608 226M1626 231L1628 220"/><path d="M1586 260L1607 246L1608 226L1588 236Z" stroke-width="1.6"/><path d="M1586 260L1588 236M1607 246L1608 226"/><path d="M1566 279L1586 260L1588 236L1568 251Z" stroke-width="1.4"/><path d="M1566 279L1568 251M1586 260L1588 236"/><path d="M1547 299L1566 279L1568 251L1549 269Z" stroke-width="1.4"/><path d="M1547 299L1549 269M1566 279L1568 251"/><path d="M1527 320L1547 299L1549 269L1529 289Z" stroke-width="1.4"/><path d="M1527 320L1529 289M1547 299L1549 269"/><path d="M1508 338L1527 320L1529 289L1510 310Z" stroke-width="1.4"/><path d="M1508 338L1510 310M1527 320L1529 289"/><path d="M1488 351L1508 338L1510 310L1490 330Z" stroke-width="1.4"/><path d="M1488 351L1490 330M1508 338L1510 310"/><path d="M1469 354L1488 351L1490 330L1471 346Z" stroke-width="1.5"/><path d="M1469 354L1471 346M1488 351L1490 330"/><path d="M1449 357L1469 354L1471 346L1451 351Z" stroke-width="1.8"/><path d="M1429 360L1449 357L1451 351L1432 355Z"/><path d="M1410 365L1429 360L1432 355L1412 360Z" stroke-width="1.8"/><path d="M1390 371L1410 365L1412 360L1392 366Z" stroke-width="1.8"/><path d="M1370 374L1390 371L1392 366L1372 369Z"/><path d="M1350 376L1370 374L1372 369L1353 371Z"/><path d="M1331 376L1350 376L1353 371L1333 371Z"/><path d="M1311 377L1331 376L1333 371L1313 372Z"/><path d="M1291 379L1311 377L1313 372L1293 374Z"/><path d="M1644 228L1663 228L1665 224L1646 224Z"/><path d="M1624 237L1644 228L1646 224L1626 231Z" stroke-width="1.7"/><path d="M1624 237L1626 231M1644 228L1646 224" stroke-width="1.8"/><path d="M1605 256L1624 237L1626 231L1607 246Z" stroke-width="1.4"/><path d="M1605 256L1607 246M1624 237L1626 231"/><path d="M1584 288L1605 256L1607 246L1586 260Z" stroke-width="1.6"/><path d="M1584 288L1586 260M1605 256L1607 246"/><path d="M1565 310L1584 288L1586 260L1566 279Z" stroke-width="1.4"/><path d="M1565 310L1566 279M1584 288L1586 260"/><path d="M1545 329L1565 310L1566 279L1547 299Z" stroke-width="1.4"/><path d="M1545 329L1547 299M1565 310L1566 279"/><path d="M1526 346L1545 329L1547 299L1527 320Z" stroke-width="1.4"/><path d="M1526 346L1527 320M1545 329L1547 299"/><path d="M1506 355L1526 346L1527 320L1508 338Z" stroke-width="1.4"/><path d="M1506 355L1508 338M1526 346L1527 320"/><path d="M1486 357L1506 355L1508 338L1488 351Z" stroke-width="1.6"/><path d="M1486 357L1488 351M1506 355L1508 338"/><path d="M1467 359L1486 357L1488 351L1469 354Z"/><path d="M1447 362L1467 359L1469 354L1449 357Z"/><path d="M1427 365L1447 362L1449 357L1429 360Z"/><path d="M1407 370L1427 365L1429 360L1410 365Z" stroke-width="1.8"/><path d="M1388 377L1407 370L1410 365L1390 371Z" stroke-width="1.8"/><path d="M1368 379L1388 377L1390 371L1370 374Z"/><path d="M1348 381L1368 379L1370 374L1350 376Z"/><path d="M1328 381L1348 381L1350 376L1331 376Z"/><path d="M1309 382L1328 381L1331 376L1311 377Z"/><path d="M1289 383L1309 382L1311 377L1291 379Z"/><path d="M1642 233L1661 233L1663 228L1644 228Z"/><path d="M1622 240L1642 233L1644 228L1624 237Z" stroke-width="1.7"/><path d="M1602 257L1622 240L1624 237L1605 256Z" stroke-width="1.4"/><path d="M1602 257L1605 256M1622 240L1624 237"/><path d="M1582 320L1602 257L1605 256L1584 288Z" stroke-width="1.6"/><path d="M1582 320L1584 288M1602 257L1605 256"/><path d="M1563 339L1582 320L1584 288L1565 310Z" stroke-width="1.4"/><path d="M1563 339L1565 310M1582 320L1584 288"/><path d="M1543 344L1563 339L1565 310L1545 329Z" stroke-width="1.4"/><path d="M1543 344L1545 329M1563 339L1565 310"/><path d="M1524 359L1543 344L1545 329L1526 346Z" stroke-width="1.4"/><path d="M1524 359L1526 346M1543 344L1545 329"/><path d="M1504 361L1524 359L1526 346L1506 355Z" stroke-width="1.7"/><path d="M1504 361L1506 355M1524 359L1526 346"/><path d="M1484 363L1504 361L1506 355L1486 357Z"/><path d="M1464 365L1484 363L1486 357L1467 359Z"/><path d="M1445 367L1464 365L1467 359L1447 362Z"/><path d="M1425 369L1445 367L1447 362L1427 365Z"/><path d="M1405 375L1425 369L1427 365L1407 370Z" stroke-width="1.8"/><path d="M1386 382L1405 375L1407 370L1388 377Z" stroke-width="1.8"/><path d="M1366 385L1386 382L1388 377L1368 379Z"/><path d="M1346 386L1366 385L1368 379L1348 381Z"/><path d="M1326 386L1346 386L1348 381L1328 381Z"/><path d="M1307 387L1326 386L1328 381L1309 382Z"/><path d="M1287 388L1307 387L1309 382L1289 383Z"/><path d="M1639 237L1659 237L1661 233L1642 233Z"/><path d="M1620 243L1639 237L1642 233L1622 240Z" stroke-width="1.8"/><path d="M1600 257L1620 243L1622 240L1602 257Z" stroke-width="1.4"/><path d="M1600 257L1602 257M1620 243L1622 240"/><path d="M1581 343L1600 257L1602 257L1582 320Z" stroke-width="1.8"/><path d="M1581 343L1582 320M1600 257L1602 257"/><path d="M1561 345L1581 343L1582 320L1563 339Z" stroke-width="1.4"/><path d="M1561 345L1563 339M1581 343L1582 320"/><path d="M1541 348L1561 345L1563 339L1543 344Z" stroke-width="1.8"/><path d="M1521 366L1541 348L1543 344L1524 359Z" stroke-width="1.4"/><path d="M1521 366L1524 359M1541 348L1543 344" stroke-width="1.8"/><path d="M1502 368L1521 366L1524 359L1504 361Z"/><path d="M1482 369L1502 368L1504 361L1484 363Z"/><path d="M1462 370L1482 369L1484 363L1464 365Z"/><path d="M1443 372L1462 370L1464 365L1445 367Z"/><path d="M1423 374L1443 372L1445 367L1425 369Z"/><path d="M1403 380L1423 374L1425 369L1405 375Z" stroke-width="1.8"/><path d="M1383 388L1403 380L1405 375L1386 382Z" stroke-width="1.8"/><path d="M1364 390L1383 388L1386 382L1366 385Z"/><path d="M1344 391L1364 390L1366 385L1346 386Z"/><path d="M1324 391L1344 391L1346 386L1326 386Z"/><path d="M1304 391L1324 391L1326 386L1307 387Z"/><path d="M1285 392L1304 391L1307 387L1287 388Z"/><path d="M1637 242L1657 242L1659 237L1639 237Z"/><path d="M1618 246L1637 242L1639 237L1620 243Z" stroke-width="1.8"/><path d="M1598 257L1618 246L1620 243L1600 257Z" stroke-width="1.5"/><path d="M1598 257L1600 257M1618 246L1620 243"/><path d="M1578 348L1598 257L1600 257L1581 343Z"/><path d="M1559 349L1578 348L1581 343L1561 345Z"/><path d="M1539 352L1559 349L1561 345L1541 348Z"/><path d="M1519 373L1539 352L1541 348L1521 366Z" stroke-width="1.4"/><path d="M1519 373L1521 366M1539 352L1541 348" stroke-width="1.8"/><path d="M1500 374L1519 373L1521 366L1502 368Z"/><path d="M1480 375L1500 374L1502 368L1482 369Z"/><path d="M1460 376L1480 375L1482 369L1462 370Z"/><path d="M1440 377L1460 376L1462 370L1443 372Z"/><path d="M1421 379L1440 377L1443 372L1423 374Z"/><path d="M1401 385L1421 379L1423 374L1403 380Z" stroke-width="1.8"/><path d="M1381 394L1401 385L1403 380L1383 388Z" stroke-width="1.7"/><path d="M1381 394L1383 388M1401 385L1403 380" stroke-width="1.8"/><path d="M1362 395L1381 394L1383 388L1364 390Z"/><path d="M1342 396L1362 395L1364 390L1344 391Z"/><path d="M1322 396L1342 396L1344 391L1324 391Z"/><path d="M1302 396L1322 396L1324 391L1304 391Z"/><path d="M1283 397L1302 396L1304 391L1285 392Z"/><path d="M1635 246L1655 246L1657 242L1637 242Z"/><path d="M1616 249L1635 246L1637 242L1618 246Z"/><path d="M1596 258L1616 249L1618 246L1598 257Z" stroke-width="1.6"/><path d="M1596 258L1598 257M1616 249L1618 246"/><path d="M1576 352L1596 258L1598 257L1578 348Z"/><path d="M1557 353L1576 352L1578 348L1559 349Z"/><path d="M1537 357L1557 353L1559 349L1539 352Z"/><path d="M1517 380L1537 357L1539 352L1519 373Z" stroke-width="1.4"/><path d="M1517 380L1519 373M1537 357L1539 352" stroke-width="1.8"/><path d="M1497 380L1517 380L1519 373L1500 374Z"/><path d="M1478 381L1497 380L1500 374L1480 375Z"/><path d="M1458 382L1478 381L1480 375L1460 376Z"/><path d="M1438 382L1458 382L1460 376L1440 377Z"/><path d="M1419 384L1438 382L1440 377L1421 379Z"/><path d="M1399 390L1419 384L1421 379L1401 385Z" stroke-width="1.8"/><path d="M1379 399L1399 390L1401 385L1381 394Z" stroke-width="1.7"/><path d="M1379 399L1381 394M1399 390L1401 385" stroke-width="1.8"/><path d="M1359 400L1379 399L1381 394L1362 395Z"/><path d="M1340 401L1359 400L1362 395L1342 396Z"/><path d="M1320 401L1340 401L1342 396L1322 396Z"/><path d="M1300 401L1320 401L1322 396L1302 396Z"/><path d="M1280 401L1300 401L1302 396L1283 397Z"/><path d="M1633 251L1653 251L1655 246L1635 246Z"/><path d="M1613 252L1633 251L1635 246L1616 249Z"/><path d="M1594 258L1613 252L1616 249L1596 258Z" stroke-width="1.7"/><path d="M1594 258L1596 258M1613 252L1616 249"/><path d="M1574 357L1594 258L1596 258L1576 352Z"/><path d="M1554 357L1574 357L1576 352L1557 353Z"/><path d="M1535 361L1554 357L1557 353L1537 357Z"/><path d="M1515 386L1535 361L1537 357L1517 380Z" stroke-width="1.4"/><path d="M1515 386L1517 380M1535 361L1537 357" stroke-width="1.8"/><path d="M1495 387L1515 386L1517 380L1497 380Z"/><path d="M1476 387L1495 387L1497 380L1478 381Z"/><path d="M1456 387L1476 387L1478 381L1458 382Z"/><path d="M1436 388L1456 387L1458 382L1438 382Z"/><path d="M1416 389L1436 388L1438 382L1419 384Z"/><path d="M1397 395L1416 389L1419 384L1399 390Z" stroke-width="1.8"/><path d="M1377 405L1397 395L1399 390L1379 399Z" stroke-width="1.7"/><path d="M1377 405L1379 399M1397 395L1399 390" stroke-width="1.8"/><path d="M1357 405L1377 405L1379 399L1359 400Z"/><path d="M1338 406L1357 405L1359 400L1340 401Z"/><path d="M1318 406L1338 406L1340 401L1320 401Z"/><path d="M1298 406L1318 406L1320 401L1300 401Z"/><path d="M1278 406L1298 406L1300 401L1280 401Z"/><path d="M1631 255L1651 255L1653 251L1633 251Z"/><path d="M1611 255L1631 255L1633 251L1613 252Z"/><path d="M1592 258L1611 255L1613 252L1594 258Z" stroke-width="1.8"/><path d="M1592 258L1594 258M1611 255L1613 252"/><path d="M1572 361L1592 258L1594 258L1574 357Z"/><path d="M1552 361L1572 361L1574 357L1554 357Z"/><path d="M1533 365L1552 361L1554 357L1535 361Z"/><path d="M1513 393L1533 365L1535 361L1515 386Z" stroke-width="1.5"/><path d="M1513 393L1515 386M1533 365L1535 361" stroke-width="1.8"/><path d="M1493 393L1513 393L1515 386L1495 387Z"/><path d="M1473 393L1493 393L1495 387L1476 387Z"/><path d="M1454 393L1473 393L1476 387L1456 387Z"/><path d="M1434 393L1454 393L1456 387L1436 388Z"/><path d="M1414 394L1434 393L1436 388L1416 389Z"/><path d="M1395 400L1414 394L1416 389L1397 395Z" stroke-width="1.8"/><path d="M1375 410L1395 400L1397 395L1377 405Z" stroke-width="1.7"/><path d="M1375 410L1377 405M1395 400L1397 395" stroke-width="1.8"/><path d="M1355 410L1375 410L1377 405L1357 405Z"/><path d="M1335 410L1355 410L1357 405L1338 406Z"/><path d="M1316 410L1335 410L1338 406L1318 406Z"/><path d="M1296 410L1316 410L1318 406L1298 406Z"/><path d="M1276 410L1296 410L1298 406L1278 406Z"/></g>
<rect x="1" y="558" width="982" height="660" fill="#e5e5e5"/>
<g fill="#fff" stroke="#9e9e9e" stroke-width="2" stroke-linejoin="miter"><polygon points="279,1084.1 709,1087 739.6,923.7 309.6,918.4"/><polygon points="272.2,814.8 304.6,654.4 309.6,918.4 279,1084.1"/><polygon points="304.6,654.4 733.7,658.9 739.6,923.7 309.6,918.4"/></g>
<text x="219.2" y="849.5" font-size="20" textLength="23.6" lengthAdjust="spacingAndGlyphs" fill="#141014">24</text><text x="219.2" y="921.6" font-size="20" textLength="23.6" lengthAdjust="spacingAndGlyphs" fill="#141014">18</text><text x="219.2" y="990.7" font-size="20" textLength="23.6" lengthAdjust="spacingAndGlyphs" fill="#141014">12</text><text x="231" y="1063.4" font-size="20" textLength="11.8" lengthAdjust="spacingAndGlyphs" fill="#141014">6</text><path d="M272.9 844.3h-6.5M274.8 916.4h-6.5M276.5 985.5h-6.5M278.3 1058.2h-6.5" stroke="#9e9e9e" stroke-width="2" fill="none"/>
<path d="M348.7 1084.6l0 4.5M504.1 1085.6l0 4.5M660.1 1086.7l0 4.5" stroke="#9e9e9e" stroke-width="2" fill="none"/>
<path d="M739 932.6l6.5 0M728.7 981.7l6.5 0M719 1030.3l6.5 0M709.5 1079.1l6.5 0" stroke="#9e9e9e" stroke-width="2" fill="none"/>
<g stroke="#141014" stroke-width="0.3"><text x="327.3" y="1115" font-size="20" textLength="27.3" lengthAdjust="spacingAndGlyphs" fill="#141014">0.2</text><text x="485.3" y="1117.4" font-size="20" textLength="27.1" lengthAdjust="spacingAndGlyphs" fill="#141014">0.4</text><text x="641.3" y="1119.4" font-size="20" textLength="27" lengthAdjust="spacingAndGlyphs" fill="#141014">0.6</text><text x="764" y="938.4" font-size="20" textLength="39.7" lengthAdjust="spacingAndGlyphs" fill="#141014">0.15</text><text x="755.2" y="987" font-size="20" textLength="39.1" lengthAdjust="spacingAndGlyphs" fill="#141014">0.10</text><text x="745.7" y="1035.6" font-size="20" textLength="38.9" lengthAdjust="spacingAndGlyphs" fill="#141014">0.05</text><text x="736" y="1084.1" font-size="20" textLength="39.2" lengthAdjust="spacingAndGlyphs" fill="#141014">0.00</text></g>
<text x="38.8" y="808.4" font-size="27" textLength="186.3" lengthAdjust="spacingAndGlyphs" fill="#141014">Methanol (ml)</text>
<text x="758.1" y="900.8" font-size="27" textLength="186.9" lengthAdjust="spacingAndGlyphs" fill="#141014">Ammonia (ml)</text>
<text x="362.6" y="1156.2" font-size="27" textLength="188" lengthAdjust="spacingAndGlyphs" fill="#141014">Rf (Colchicine)</text>
<text x="131" y="773.6" font-size="38" textLength="44.1" lengthAdjust="spacingAndGlyphs">(C)</text>
<g fill="#e4e4e4" stroke="#540c6d" stroke-width="1.9" stroke-linecap="square"><path d="M689 690L709 691L710 682L690 680Z"/><path d="M669 689L689 690L690 680L670 680Z"/><path d="M648 689L669 689L670 680L650 680Z"/><path d="M628 689L648 689L650 680L630 680Z"/><path d="M608 689L628 689L630 680L610 680Z"/><path d="M588 689L608 689L610 680L589 680Z"/><path d="M568 690L588 689L589 680L569 681Z"/><path d="M548 691L568 690L569 681L549 682Z"/><path d="M528 694L548 691L549 682L529 683Z"/><path d="M508 696L528 694L529 683L509 685Z"/><path d="M487 699L508 696L509 685L489 687Z"/><path d="M467 706L487 699L489 687L469 691Z" stroke-width="1.8"/><path d="M467 706L469 691M487 699L489 687"/><path d="M447 716L467 706L469 691L448 695Z" stroke-width="1.7"/><path d="M447 716L448 695M467 706L469 691"/><path d="M427 727L447 716L448 695L428 703Z" stroke-width="1.7"/><path d="M427 727L428 703M447 716L448 695"/><path d="M407 740L427 727L428 703L408 716Z" stroke-width="1.6"/><path d="M407 740L408 716M427 727L428 703"/><path d="M387 759L407 740L408 716L388 734Z" stroke-width="1.4"/><path d="M387 759L388 734M407 740L408 716"/><path d="M367 780L387 759L388 734L368 755Z" stroke-width="1.4"/><path d="M367 780L368 755M387 759L388 734"/><path d="M347 801L367 780L368 755L348 776Z" stroke-width="1.4"/><path d="M347 801L348 776M367 780L368 755"/><path d="M327 819L347 801L348 776L328 795Z" stroke-width="1.4"/><path d="M327 819L328 795M347 801L348 776"/><path d="M687 703L707 704L709 691L689 690Z"/><path d="M667 702L687 703L689 690L669 689Z"/><path d="M647 702L667 702L669 689L648 689Z"/><path d="M627 702L647 702L648 689L628 689Z"/><path d="M607 702L627 702L628 689L608 689Z"/><path d="M587 704L607 702L608 689L588 689Z"/><path d="M567 706L587 704L588 689L568 690Z"/><path d="M547 710L567 706L568 690L548 691Z"/><path d="M527 714L547 710L548 691L528 694Z"/><path d="M507 715L527 714L528 694L508 696Z"/><path d="M486 718L507 715L508 696L487 699Z"/><path d="M466 727L486 718L487 699L467 706Z" stroke-width="1.7"/><path d="M466 727L467 706M486 718L487 699"/><path d="M446 739L466 727L467 706L447 716Z" stroke-width="1.6"/><path d="M446 739L447 716M466 727L467 706"/><path d="M426 751L446 739L447 716L427 727Z" stroke-width="1.6"/><path d="M426 751L427 727M446 739L447 716"/><path d="M406 765L426 751L427 727L407 740Z" stroke-width="1.6"/><path d="M406 765L407 740M426 751L427 727"/><path d="M386 783L406 765L407 740L387 759Z" stroke-width="1.4"/><path d="M386 783L387 759M406 765L407 740"/><path d="M366 804L386 783L387 759L367 780Z" stroke-width="1.4"/><path d="M366 804L367 780M386 783L387 759"/><path d="M346 825L366 804L367 780L347 801Z" stroke-width="1.4"/><path d="M346 825L347 801M366 804L367 780"/><path d="M326 844L346 825L347 801L327 819Z" stroke-width="1.4"/><path d="M326 844L327 819M346 825L347 801"/><path d="M686 723L706 720L707 704L687 703Z"/><path d="M666 725L686 723L687 703L667 702Z"/><path d="M646 727L666 725L667 702L647 702Z"/><path d="M626 728L646 727L647 702L627 702Z"/><path d="M606 729L626 728L627 702L607 702Z"/><path d="M586 730L606 729L607 702L587 704Z"/><path d="M566 733L586 730L587 704L567 706Z"/><path d="M546 738L566 733L567 706L547 710Z"/><path d="M526 740L546 738L547 710L527 714Z"/><path d="M506 739L526 740L527 714L507 715Z"/><path d="M485 741L506 739L507 715L486 718Z"/><path d="M465 750L485 741L486 718L466 727Z" stroke-width="1.7"/><path d="M465 750L466 727M485 741L486 718"/><path d="M445 763L465 750L466 727L446 739Z" stroke-width="1.6"/><path d="M445 763L446 739M465 750L466 727"/><path d="M425 775L445 763L446 739L426 751Z" stroke-width="1.6"/><path d="M425 775L426 751M445 763L446 739"/><path d="M405 789L425 775L426 751L406 765Z" stroke-width="1.6"/><path d="M405 789L406 765M425 775L426 751"/><path d="M385 808L405 789L406 765L386 783Z" stroke-width="1.4"/><path d="M385 808L386 783M405 789L406 765"/><path d="M365 828L385 808L386 783L366 804Z" stroke-width="1.4"/><path d="M365 828L366 804M385 808L386 783"/><path d="M345 849L365 828L366 804L346 825Z" stroke-width="1.4"/><path d="M345 849L346 825M365 828L366 804"/><path d="M324 865L345 849L346 825L326 844Z" stroke-width="1.4"/><path d="M324 865L326 844M345 849L346 825"/><path d="M686 769L706 770L706 720L686 723Z"/><path d="M665 765L686 769L686 723L666 725Z"/><path d="M645 761L665 765L666 725L646 727Z"/><path d="M625 759L645 761L646 727L626 728Z"/><path d="M605 758L625 759L626 728L606 729Z"/><path d="M585 758L605 758L606 729L586 730Z"/><path d="M565 763L585 758L586 730L566 733Z" stroke-width="1.8"/><path d="M565 763L566 733M585 758L586 730"/><path d="M545 766L565 763L566 733L546 738Z"/><path d="M525 766L545 766L546 738L526 740Z"/><path d="M505 763L525 766L526 740L506 739Z"/><path d="M484 763L505 763L506 739L485 741Z"/><path d="M464 773L484 763L485 741L465 750Z" stroke-width="1.7"/><path d="M464 773L465 750M484 763L485 741"/><path d="M444 787L464 773L465 750L445 763Z" stroke-width="1.6"/><path d="M444 787L445 763M464 773L465 750"/><path d="M424 800L444 787L445 763L425 775Z" stroke-width="1.6"/><path d="M424 800L425 775M444 787L445 763"/><path d="M404 814L424 800L425 775L405 789Z" stroke-width="1.6"/><path d="M404 814L405 789M424 800L425 775"/><path d="M384 832L404 814L405 789L385 808Z" stroke-width="1.4"/><path d="M384 832L385 808M404 814L405 789"/><path d="M364 853L384 832L385 808L365 828Z" stroke-width="1.4"/><path d="M364 853L365 828M384 832L385 808"/><path d="M343 871L364 853L365 828L345 849Z" stroke-width="1.4"/><path d="M343 871L345 849M364 853L365 828"/><path d="M323 884L343 871L345 849L324 865Z" stroke-width="1.5"/><path d="M323 884L324 865M343 871L345 849"/><path d="M684 776L704 777L706 770L686 769Z"/><path d="M664 775L684 776L686 769L665 765Z"/><path d="M644 775L664 775L665 765L645 761Z"/><path d="M624 775L644 775L645 761L625 759Z"/><path d="M604 775L624 775L625 759L605 758Z"/><path d="M583 779L604 775L605 758L585 758Z"/><path d="M563 786L583 779L585 758L565 763Z" stroke-width="1.8"/><path d="M563 786L565 763M583 779L585 758"/><path d="M544 788L563 786L565 763L545 766Z"/><path d="M524 787L544 788L545 766L525 766Z"/><path d="M503 782L524 787L525 766L505 763Z" stroke-width="1.8"/><path d="M503 782L505 763M524 787L525 766"/><path d="M483 783L503 782L505 763L484 763Z"/><path d="M463 796L483 783L484 763L464 773Z" stroke-width="1.6"/><path d="M463 796L464 773M483 783L484 763"/><path d="M443 811L463 796L464 773L444 787Z" stroke-width="1.5"/><path d="M443 811L444 787M463 796L464 773"/><path d="M423 824L443 811L444 787L424 800Z" stroke-width="1.6"/><path d="M423 824L424 800M443 811L444 787"/><path d="M403 838L423 824L424 800L404 814Z" stroke-width="1.6"/><path d="M403 838L404 814M423 824L424 800"/><path d="M383 857L403 838L404 814L384 832Z" stroke-width="1.4"/><path d="M383 857L384 832M403 838L404 814"/><path d="M362 875L383 857L384 832L364 853Z" stroke-width="1.4"/><path d="M362 875L364 853M383 857L384 832"/><path d="M342 891L362 875L364 853L343 871Z" stroke-width="1.4"/><path d="M342 891L343 871M362 875L364 853"/><path d="M322 902L342 891L343 871L323 884Z" stroke-width="1.6"/><path d="M322 902L323 884M342 891L343 871"/><path d="M683 783L703 784L704 777L684 776Z"/><path d="M663 783L683 783L684 776L664 775Z"/><path d="M642 783L663 783L664 775L644 775Z"/><path d="M622 782L642 783L644 775L624 775Z"/><path d="M602 785L622 782L624 775L604 775Z"/><path d="M582 795L602 785L604 775L583 779Z" stroke-width="1.7"/><path d="M582 795L583 779M602 785L604 775"/><path d="M562 803L582 795L583 779L563 786Z" stroke-width="1.8"/><path d="M562 803L563 786M582 795L583 779"/><path d="M543 804L562 803L563 786L544 788Z"/><path d="M523 801L543 804L544 788L524 787Z"/><path d="M502 796L523 801L524 787L503 782Z" stroke-width="1.8"/><path d="M502 796L503 782M523 801L524 787"/><path d="M482 802L502 796L503 782L483 783Z" stroke-width="1.8"/><path d="M482 802L483 783M502 796L503 782"/><path d="M462 818L482 802L483 783L463 796Z" stroke-width="1.5"/><path d="M462 818L463 796M482 802L483 783"/><path d="M442 834L462 818L463 796L443 811Z" stroke-width="1.5"/><path d="M442 834L443 811M462 818L463 796"/><path d="M422 848L442 834L443 811L423 824Z" stroke-width="1.6"/><path d="M422 848L423 824M442 834L443 811"/><path d="M401 863L422 848L423 824L403 838Z" stroke-width="1.6"/><path d="M401 863L403 838M422 848L423 824"/><path d="M381 879L401 863L403 838L383 857Z" stroke-width="1.4"/><path d="M381 879L383 857M401 863L403 838"/><path d="M361 895L381 879L383 857L362 875Z" stroke-width="1.4"/><path d="M361 895L362 875M381 879L383 857"/><path d="M341 908L361 895L362 875L342 891Z" stroke-width="1.5"/><path d="M341 908L342 891M361 895L362 875"/><path d="M321 917L341 908L342 891L322 902Z" stroke-width="1.7"/><path d="M321 917L322 902M341 908L342 891"/><path d="M681 791L701 792L703 784L683 783Z"/><path d="M661 790L681 791L683 783L663 783Z"/><path d="M641 790L661 790L663 783L642 783Z"/><path d="M621 790L641 790L642 783L622 782Z"/><path d="M601 799L621 790L622 782L602 785Z" stroke-width="1.7"/><path d="M601 799L602 785M621 790L622 782"/><path d="M581 812L601 799L602 785L582 795Z" stroke-width="1.6"/><path d="M581 812L582 795M601 799L602 785"/><path d="M561 819L581 812L582 795L562 803Z" stroke-width="1.8"/><path d="M561 819L562 803M581 812L582 795"/><path d="M541 817L561 819L562 803L543 804Z"/><path d="M521 813L541 817L543 804L523 801Z"/><path d="M501 812L521 813L523 801L502 796Z"/><path d="M481 823L501 812L502 796L482 802Z" stroke-width="1.7"/><path d="M481 823L482 802M501 812L502 796"/><path d="M461 842L481 823L482 802L462 818Z" stroke-width="1.4"/><path d="M461 842L462 818M481 823L482 802"/><path d="M441 845L461 842L462 818L442 834Z" stroke-width="1.5"/><path d="M441 845L442 834M461 842L462 818"/><path d="M421 868L441 845L442 834L422 848Z" stroke-width="1.4"/><path d="M421 868L422 848M441 845L442 834"/><path d="M400 886L421 868L422 848L401 863Z" stroke-width="1.4"/><path d="M400 886L401 863M421 868L422 848"/><path d="M380 900L400 886L401 863L381 879Z" stroke-width="1.5"/><path d="M380 900L381 879M400 886L401 863"/><path d="M360 913L380 900L381 879L361 895Z" stroke-width="1.5"/><path d="M360 913L361 895M380 900L381 879"/><path d="M340 924L360 913L361 895L341 908Z" stroke-width="1.6"/><path d="M340 924L341 908M360 913L361 895"/><path d="M319 932L340 924L341 908L321 917Z" stroke-width="1.7"/><path d="M319 932L321 917M340 924L341 908"/><path d="M680 798L700 799L701 792L681 791Z"/><path d="M660 798L680 798L681 791L661 790Z"/><path d="M640 797L660 798L661 790L641 790Z"/><path d="M620 804L640 797L641 790L621 790Z" stroke-width="1.8"/><path d="M620 804L621 790M640 797L641 790"/><path d="M600 817L620 804L621 790L601 799Z" stroke-width="1.6"/><path d="M600 817L601 799M620 804L621 790"/><path d="M580 830L600 817L601 799L581 812Z" stroke-width="1.6"/><path d="M580 830L581 812M600 817L601 799"/><path d="M560 836L580 830L581 812L561 819Z" stroke-width="1.8"/><path d="M560 836L561 819M580 830L581 812"/><path d="M540 832L560 836L561 819L541 817Z"/><path d="M520 829L540 832L541 817L521 813Z"/><path d="M500 833L520 829L521 813L501 812Z"/><path d="M480 846L500 833L501 812L481 823Z" stroke-width="1.6"/><path d="M480 846L481 823M500 833L501 812"/><path d="M460 847L480 846L481 823L461 842Z" stroke-width="1.4"/><path d="M460 847L461 842M480 846L481 823"/><path d="M440 845L460 847L461 842L441 845Z"/><path d="M420 868L440 845L441 845L421 868Z" stroke-width="1.4"/><path d="M420 868L421 868M440 845L441 845"/><path d="M399 906L420 868L421 868L400 886Z" stroke-width="1.4"/><path d="M399 906L400 886M420 868L421 868"/><path d="M379 918L399 906L400 886L380 900Z" stroke-width="1.6"/><path d="M379 918L380 900M399 906L400 886"/><path d="M359 929L379 918L380 900L360 913Z" stroke-width="1.6"/><path d="M359 929L360 913M379 918L380 900"/><path d="M339 939L359 929L360 913L340 924Z" stroke-width="1.7"/><path d="M339 939L340 924M359 929L360 913"/><path d="M318 945L339 939L340 924L319 932Z" stroke-width="1.8"/><path d="M318 945L319 932M339 939L340 924"/><path d="M678 806L699 807L700 799L680 798Z"/><path d="M658 805L678 806L680 798L660 798Z"/><path d="M638 808L658 805L660 798L640 797Z"/><path d="M618 823L638 808L640 797L620 804Z" stroke-width="1.5"/><path d="M618 823L620 804M638 808L640 797"/><path d="M598 838L618 823L620 804L600 817Z" stroke-width="1.5"/><path d="M598 838L600 817M618 823L620 804"/><path d="M579 850L598 838L600 817L580 830Z" stroke-width="1.6"/><path d="M579 850L580 830M598 838L600 817"/><path d="M558 853L579 850L580 830L560 836Z" stroke-width="1.8"/><path d="M558 853L560 836M579 850L580 830"/><path d="M539 848L558 853L560 836L540 832Z" stroke-width="1.8"/><path d="M539 848L540 832M558 853L560 836"/><path d="M519 848L539 848L540 832L520 829Z"/><path d="M499 851L519 848L520 829L500 833Z"/><path d="M479 847L499 851L500 833L480 846Z" stroke-width="1.6"/><path d="M479 847L480 846M499 851L500 833"/><path d="M458 847L479 847L480 846L460 847Z"/><path d="M438 845L458 847L460 847L440 845Z"/><path d="M418 868L438 845L440 845L420 868Z" stroke-width="1.4"/><path d="M418 868L420 868M438 845L440 845"/><path d="M398 924L418 868L420 868L399 906Z" stroke-width="1.7"/><path d="M398 924L399 906M418 868L420 868"/><path d="M378 934L398 924L399 906L379 918Z" stroke-width="1.6"/><path d="M378 934L379 918M398 924L399 906"/><path d="M357 944L378 934L379 918L359 929Z" stroke-width="1.7"/><path d="M357 944L359 929M378 934L379 918"/><path d="M337 952L357 944L359 929L339 939Z" stroke-width="1.7"/><path d="M337 952L339 939M357 944L359 929"/><path d="M317 957L337 952L339 939L318 945Z" stroke-width="1.8"/><path d="M317 957L318 945M337 952L339 939"/><path d="M677 813L697 814L699 807L678 806Z"/><path d="M657 813L677 813L678 806L658 805Z"/><path d="M637 827L657 813L658 805L638 808Z" stroke-width="1.5"/><path d="M637 827L638 808M657 813L658 805"/><path d="M617 845L637 827L638 808L618 823Z" stroke-width="1.4"/><path d="M617 845L618 823M637 827L638 808"/><path d="M597 860L617 845L618 823L598 838Z" stroke-width="1.5"/><path d="M597 860L598 838M617 845L618 823"/><path d="M577 870L597 860L598 838L579 850Z" stroke-width="1.6"/><path d="M577 870L579 850M597 860L598 838"/><path d="M557 871L577 870L579 850L558 853Z"/><path d="M538 866L557 871L558 853L539 848Z" stroke-width="1.8"/><path d="M538 866L539 848M557 871L558 853"/><path d="M518 863L538 866L539 848L519 848Z"/><path d="M497 853L518 863L519 848L499 851Z" stroke-width="1.7"/><path d="M497 853L499 851M518 863L519 848"/><path d="M477 847L497 853L499 851L479 847Z" stroke-width="1.8"/><path d="M477 847L479 847M497 853L499 851"/><path d="M457 847L477 847L479 847L458 847Z"/><path d="M437 845L457 847L458 847L438 845Z"/><path d="M417 869L437 845L438 845L418 868Z" stroke-width="1.4"/><path d="M417 869L418 868M437 845L438 845"/><path d="M397 941L417 869L418 868L398 924Z" stroke-width="1.8"/><path d="M397 941L398 924M417 869L418 868"/><path d="M376 949L397 941L398 924L378 934Z" stroke-width="1.7"/><path d="M376 949L378 934M397 941L398 924"/><path d="M356 958L376 949L378 934L357 944Z" stroke-width="1.7"/><path d="M356 958L357 944M376 949L378 934"/><path d="M336 964L356 958L357 944L337 952Z" stroke-width="1.8"/><path d="M336 964L337 952M356 958L357 944"/><path d="M315 969L336 964L337 952L317 957Z" stroke-width="1.8"/><path d="M315 969L317 957M336 964L337 952"/><path d="M676 821L696 821L697 814L677 813Z"/><path d="M656 831L676 821L677 813L657 813Z" stroke-width="1.7"/><path d="M656 831L657 813M676 821L677 813"/><path d="M636 852L656 831L657 813L637 827Z" stroke-width="1.4"/><path d="M636 852L637 827M656 831L657 813"/><path d="M616 869L636 852L637 827L617 845Z" stroke-width="1.4"/><path d="M616 869L617 845M636 852L637 827"/><path d="M596 882L616 869L617 845L597 860Z" stroke-width="1.5"/><path d="M596 882L597 860M616 869L617 845"/><path d="M576 890L596 882L597 860L577 870Z" stroke-width="1.7"/><path d="M576 890L577 870M596 882L597 860"/><path d="M556 890L576 890L577 870L557 871Z"/><path d="M537 879L556 890L557 871L538 866Z" stroke-width="1.7"/><path d="M537 879L538 866M556 890L557 871"/><path d="M516 868L537 879L538 866L518 863Z" stroke-width="1.7"/><path d="M516 868L518 863M537 879L538 866"/><path d="M496 855L516 868L518 863L497 853Z" stroke-width="1.6"/><path d="M496 855L497 853M516 868L518 863"/><path d="M476 847L496 855L497 853L477 847Z" stroke-width="1.8"/><path d="M476 847L477 847M496 855L497 853"/><path d="M455 847L476 847L477 847L457 847Z"/><path d="M435 845L455 847L457 847L437 845Z"/><path d="M415 869L435 845L437 845L417 869Z" stroke-width="1.5"/><path d="M415 869L417 869M435 845L437 845"/><path d="M395 956L415 869L417 869L397 941Z" stroke-width="1.8"/><path d="M395 956L397 941M415 869L417 869"/><path d="M375 963L395 956L397 941L376 949Z" stroke-width="1.8"/><path d="M375 963L376 949M395 956L397 941"/><path d="M355 970L375 963L376 949L356 958Z" stroke-width="1.8"/><path d="M355 970L356 958M375 963L376 949"/><path d="M335 976L355 970L356 958L336 964Z" stroke-width="1.8"/><path d="M335 976L336 964M355 970L356 958"/><path d="M314 981L335 976L336 964L315 969Z" stroke-width="1.8"/><path d="M314 981L315 969M335 976L336 964"/><path d="M674 833L694 829L696 821L676 821Z"/><path d="M655 859L674 833L676 821L656 831Z" stroke-width="1.5"/><path d="M655 859L656 831M674 833L676 821"/><path d="M635 880L655 859L656 831L636 852Z" stroke-width="1.4"/><path d="M635 880L636 852M655 859L656 831"/><path d="M615 894L635 880L636 852L616 869Z" stroke-width="1.4"/><path d="M615 894L616 869M635 880L636 852"/><path d="M595 904L615 894L616 869L596 882Z" stroke-width="1.6"/><path d="M595 904L596 882M615 894L616 869"/><path d="M575 909L595 904L596 882L576 890Z" stroke-width="1.8"/><path d="M575 909L576 890M595 904L596 882"/><path d="M555 906L575 909L576 890L556 890Z"/><path d="M535 886L555 906L556 890L537 879Z" stroke-width="1.4"/><path d="M535 886L537 879M555 906L556 890"/><path d="M515 871L535 886L537 879L516 868Z" stroke-width="1.5"/><path d="M515 871L516 868M535 886L537 879"/><path d="M495 856L515 871L516 868L496 855Z" stroke-width="1.5"/><path d="M495 856L496 855M515 871L516 868" stroke-width="1.7"/><path d="M474 847L495 856L496 855L476 847Z" stroke-width="1.7"/><path d="M474 847L476 847M495 856L496 855"/><path d="M454 846L474 847L476 847L455 847Z"/><path d="M434 845L454 846L455 847L435 845Z"/><path d="M414 869L434 845L435 845L415 869Z" stroke-width="1.5"/><path d="M414 869L415 869M434 845L435 845"/><path d="M394 967L414 869L415 869L395 956Z"/><path d="M374 974L394 967L395 956L375 963Z" stroke-width="1.8"/><path d="M374 974L375 963M394 967L395 956"/><path d="M354 982L374 974L375 963L355 970Z" stroke-width="1.8"/><path d="M354 982L355 970M374 974L375 963"/><path d="M333 988L354 982L355 970L335 976Z" stroke-width="1.8"/><path d="M333 988L335 976M354 982L355 970"/><path d="M313 991L333 988L335 976L314 981Z"/><path d="M673 866L693 836L694 829L674 833Z" stroke-width="1.6"/><path d="M673 866L674 833M693 836L694 829"/><path d="M654 892L673 866L674 833L655 859Z" stroke-width="1.5"/><path d="M654 892L655 859M673 866L674 833"/><path d="M634 908L654 892L655 859L635 880Z" stroke-width="1.4"/><path d="M634 908L635 880M654 892L655 859"/><path d="M614 918L634 908L635 880L615 894Z" stroke-width="1.5"/><path d="M614 918L615 894M634 908L635 880"/><path d="M594 924L614 918L615 894L595 904Z" stroke-width="1.7"/><path d="M594 924L595 904M614 918L615 894"/><path d="M574 927L594 924L595 904L575 909Z" stroke-width="1.8"/><path d="M574 927L575 909M594 924L595 904"/><path d="M553 923L574 927L575 909L555 906Z"/><path d="M534 885L553 923L555 906L535 886Z" stroke-width="1.4"/><path d="M534 885L535 886M553 923L555 906"/><path d="M514 867L534 885L535 886L515 871Z" stroke-width="1.4"/><path d="M514 867L515 871M534 885L535 886" stroke-width="1.8"/><path d="M493 854L514 867L515 871L495 856Z" stroke-width="1.5"/><path d="M493 854L495 856M514 867L515 871" stroke-width="1.8"/><path d="M473 847L493 854L495 856L474 847Z" stroke-width="1.7"/><path d="M473 847L474 847M493 854L495 856"/><path d="M453 846L473 847L474 847L454 846Z"/><path d="M432 845L453 846L454 846L434 845Z"/><path d="M412 870L432 845L434 845L414 869Z" stroke-width="1.5"/><path d="M412 870L414 869M432 845L434 845"/><path d="M392 976L412 870L414 869L394 967Z"/><path d="M372 982L392 976L394 967L374 974Z" stroke-width="1.8"/><path d="M372 982L374 974M392 976L394 967"/><path d="M352 990L372 982L374 974L354 982Z" stroke-width="1.8"/><path d="M352 990L354 982M372 982L374 974"/><path d="M332 997L352 990L354 982L333 988Z" stroke-width="1.8"/><path d="M332 997L333 988M352 990L354 982"/><path d="M311 1002L332 997L333 988L313 991Z" stroke-width="1.8"/><path d="M311 1002L313 991M332 997L333 988"/><path d="M673 908L692 872L693 836L673 866Z" stroke-width="1.6"/><path d="M673 908L673 866M692 872L693 836"/><path d="M653 925L673 908L673 866L654 892Z" stroke-width="1.4"/><path d="M653 925L654 892M673 908L673 866"/><path d="M633 934L653 925L654 892L634 908Z" stroke-width="1.5"/><path d="M633 934L634 908M653 925L654 892"/><path d="M613 939L633 934L634 908L614 918Z" stroke-width="1.7"/><path d="M613 939L614 918M633 934L634 908"/><path d="M593 942L613 939L614 918L594 924Z" stroke-width="1.8"/><path d="M593 942L594 924M613 939L614 918"/><path d="M572 943L593 942L594 924L574 927Z"/><path d="M552 940L572 943L574 927L553 923Z"/><path d="M532 879L552 940L553 923L534 885Z" stroke-width="1.7"/><path d="M532 879L534 885M552 940L553 923"/><path d="M512 859L532 879L534 885L514 867Z" stroke-width="1.3"/><path d="M512 859L514 867M532 879L534 885"/><path d="M492 851L512 859L514 867L493 854Z" stroke-width="1.6"/><path d="M492 851L493 854M512 859L514 867"/><path d="M471 847L492 851L493 854L473 847Z" stroke-width="1.8"/><path d="M451 846L471 847L473 847L453 846Z"/><path d="M431 845L451 846L453 846L432 845Z"/><path d="M411 870L431 845L432 845L412 870Z" stroke-width="1.5"/><path d="M411 870L412 870M431 845L432 845"/><path d="M391 985L411 870L412 870L392 976Z"/><path d="M371 990L391 985L392 976L372 982Z" stroke-width="1.8"/><path d="M371 990L372 982M391 985L392 976"/><path d="M351 997L371 990L372 982L352 990Z" stroke-width="1.8"/><path d="M351 997L352 990M371 990L372 982"/><path d="M330 1003L351 997L352 990L332 997Z" stroke-width="1.8"/><path d="M330 1003L332 997M351 997L352 990"/><path d="M310 1012L330 1003L332 997L311 1002Z" stroke-width="1.7"/><path d="M310 1012L311 1002M330 1003L332 997"/><path d="M672 947L692 932L692 872L673 908Z" stroke-width="1.5"/><path d="M672 947L673 908M692 932L692 872"/><path d="M652 952L672 947L673 908L653 925Z" stroke-width="1.4"/><path d="M652 952L653 925M672 947L673 908"/><path d="M632 954L652 952L653 925L633 934Z" stroke-width="1.7"/><path d="M632 954L633 934M652 952L653 925"/><path d="M611 956L632 954L633 934L613 939Z" stroke-width="1.8"/><path d="M611 956L613 939M632 954L633 934"/><path d="M591 956L611 956L613 939L593 942Z"/><path d="M571 957L591 956L593 942L572 943Z"/><path d="M551 956L571 957L572 943L552 940Z"/><path d="M531 877L551 956L552 940L532 879Z" stroke-width="1.8"/><path d="M531 877L532 879M551 956L552 940"/><path d="M510 856L531 877L532 879L512 859Z" stroke-width="1.3"/><path d="M510 856L512 859M531 877L532 879" stroke-width="1.6"/><path d="M490 854L510 856L512 859L492 851Z" stroke-width="1.8"/><path d="M470 853L490 854L492 851L471 847Z"/><path d="M450 853L470 853L471 847L451 846Z"/><path d="M429 852L450 853L451 846L431 845Z"/><path d="M409 877L429 852L431 845L411 870Z" stroke-width="1.5"/><path d="M409 877L411 870M429 852L431 845"/><path d="M390 994L409 877L411 870L391 985Z"/><path d="M369 998L390 994L391 985L371 990Z" stroke-width="1.8"/><path d="M369 998L371 990M390 994L391 985"/><path d="M349 1004L369 998L371 990L351 997Z" stroke-width="1.8"/><path d="M349 1004L351 997M369 998L371 990"/><path d="M329 1009L349 1004L351 997L330 1003Z" stroke-width="1.8"/><path d="M329 1009L330 1003M349 1004L351 997"/><path d="M309 1021L329 1009L330 1003L310 1012Z" stroke-width="1.6"/><path d="M309 1021L310 1012M329 1009L330 1003"/><path d="M671 968L691 968L692 932L672 947Z" stroke-width="1.5"/><path d="M671 968L672 947M691 968L692 932"/><path d="M650 967L671 968L672 947L652 952Z" stroke-width="1.8"/><path d="M650 967L652 952M671 968L672 947"/><path d="M630 967L650 967L652 952L632 954Z"/><path d="M610 967L630 967L632 954L611 956Z"/><path d="M590 966L610 967L611 956L591 956Z"/><path d="M570 966L590 966L591 956L571 957Z"/><path d="M550 966L570 966L571 957L551 956Z"/><path d="M529 880L550 966L551 956L531 877Z" stroke-width="1.8"/><path d="M529 880L531 877M550 966L551 956"/><path d="M509 859L529 880L531 877L510 856Z" stroke-width="1.3"/><path d="M509 859L510 856M529 880L531 877" stroke-width="1.7"/><path d="M489 859L509 859L510 856L490 854Z"/><path d="M469 860L489 859L490 854L470 853Z"/><path d="M448 860L469 860L470 853L450 853Z"/><path d="M428 859L448 860L450 853L429 852Z"/><path d="M408 885L428 859L429 852L409 877Z" stroke-width="1.5"/><path d="M408 885L409 877M428 859L429 852"/><path d="M388 1003L408 885L409 877L390 994Z"/><path d="M368 1006L388 1003L390 994L369 998Z"/><path d="M348 1011L368 1006L369 998L349 1004Z" stroke-width="1.8"/><path d="M348 1011L349 1004M368 1006L369 998"/><path d="M328 1015L348 1011L349 1004L329 1009Z" stroke-width="1.8"/><path d="M328 1015L329 1009M348 1011L349 1004"/><path d="M307 1030L328 1015L329 1009L309 1021Z" stroke-width="1.5"/><path d="M307 1030L309 1021M328 1015L329 1009"/><path d="M669 977L690 978L691 968L671 968Z"/><path d="M649 977L669 977L671 968L650 967Z"/><path d="M629 977L649 977L650 967L630 967Z"/><path d="M609 976L629 977L630 967L610 967Z"/><path d="M589 976L609 976L610 967L590 966Z"/><path d="M568 976L589 976L590 966L570 966Z"/><path d="M548 976L568 976L570 966L550 966Z"/><path d="M528 887L548 976L550 966L529 880Z" stroke-width="1.8"/><path d="M528 887L529 880M548 976L550 966"/><path d="M508 867L528 887L529 880L509 859Z" stroke-width="1.3"/><path d="M508 867L509 859M528 887L529 880"/><path d="M487 867L508 867L509 859L489 859Z"/><path d="M467 867L487 867L489 859L469 860Z"/><path d="M447 867L467 867L469 860L448 860Z"/><path d="M427 866L447 867L448 860L428 859Z"/><path d="M407 892L427 866L428 859L408 885Z" stroke-width="1.5"/><path d="M407 892L408 885M427 866L428 859"/><path d="M387 1012L407 892L408 885L388 1003Z"/><path d="M367 1014L387 1012L388 1003L368 1006Z"/><path d="M346 1018L367 1014L368 1006L348 1011Z"/><path d="M326 1021L346 1018L348 1011L328 1015Z"/><path d="M306 1038L326 1021L328 1015L307 1030Z" stroke-width="1.4"/><path d="M306 1038L307 1030M326 1021L328 1015"/><path d="M668 987L688 988L690 978L669 977Z"/><path d="M648 987L668 987L669 977L649 977Z"/><path d="M628 987L648 987L649 977L629 977Z"/><path d="M607 986L628 987L629 977L609 976Z"/><path d="M587 986L607 986L609 976L589 976Z"/><path d="M567 986L587 986L589 976L568 976Z"/><path d="M547 986L567 986L568 976L548 976Z"/><path d="M526 895L547 986L548 976L528 887Z"/><path d="M506 874L526 895L528 887L508 867Z" stroke-width="1.4"/><path d="M506 874L508 867M526 895L528 887"/><path d="M486 874L506 874L508 867L487 867Z"/><path d="M466 874L486 874L487 867L467 867Z"/><path d="M446 873L466 874L467 867L447 867Z"/><path d="M425 873L446 873L447 867L427 866Z"/><path d="M405 899L425 873L427 866L407 892Z" stroke-width="1.5"/><path d="M405 899L407 892M425 873L427 866"/><path d="M385 1021L405 899L407 892L387 1012Z"/><path d="M365 1022L385 1021L387 1012L367 1014Z"/><path d="M345 1025L365 1022L367 1014L346 1018Z"/><path d="M325 1027L345 1025L346 1018L326 1021Z"/><path d="M304 1046L325 1027L326 1021L306 1038Z" stroke-width="1.4"/><path d="M304 1046L306 1038M325 1027L326 1021"/><path d="M667 997L687 998L688 988L668 987Z"/><path d="M646 997L667 997L668 987L648 987Z"/><path d="M626 997L646 997L648 987L628 987Z"/><path d="M606 996L626 997L628 987L607 986Z"/><path d="M586 996L606 996L607 986L587 986Z"/><path d="M566 996L586 996L587 986L567 986Z"/><path d="M545 996L566 996L567 986L547 986Z"/><path d="M525 902L545 996L547 986L526 895Z"/><path d="M505 881L525 902L526 895L506 874Z" stroke-width="1.4"/><path d="M505 881L506 874M525 902L526 895"/><path d="M485 881L505 881L506 874L486 874Z"/><path d="M465 881L485 881L486 874L466 874Z"/><path d="M444 880L465 881L466 874L446 873Z"/><path d="M424 880L444 880L446 873L425 873Z"/><path d="M404 907L424 880L425 873L405 899Z" stroke-width="1.5"/><path d="M404 907L405 899M424 880L425 873"/><path d="M384 1030L404 907L405 899L385 1021Z"/><path d="M364 1030L384 1030L385 1021L365 1022Z"/><path d="M343 1032L364 1030L365 1022L345 1025Z"/><path d="M323 1033L343 1032L345 1025L325 1027Z"/><path d="M303 1054L323 1033L325 1027L304 1046Z" stroke-width="1.4"/><path d="M303 1054L304 1046M323 1033L325 1027"/><path d="M665 1007L685 1008L687 998L667 997Z"/><path d="M645 1007L665 1007L667 997L646 997Z"/><path d="M625 1006L645 1007L646 997L626 997Z"/><path d="M605 1006L625 1006L626 997L606 996Z"/><path d="M584 1006L605 1006L606 996L586 996Z"/><path d="M564 1006L584 1006L586 996L566 996Z"/><path d="M544 1006L564 1006L566 996L545 996Z"/><path d="M524 910L544 1006L545 996L525 902Z"/><path d="M504 888L524 910L525 902L505 881Z" stroke-width="1.4"/><path d="M504 888L505 881M524 910L525 902"/><path d="M483 888L504 888L505 881L485 881Z"/><path d="M463 888L483 888L485 881L465 881Z"/><path d="M443 887L463 888L465 881L444 880Z"/><path d="M423 887L443 887L444 880L424 880Z"/><path d="M403 914L423 887L424 880L404 907Z" stroke-width="1.5"/><path d="M403 914L404 907M423 887L424 880"/><path d="M382 1038L403 914L404 907L384 1030Z"/><path d="M362 1038L382 1038L384 1030L364 1030Z"/><path d="M342 1038L362 1038L364 1030L343 1032Z"/><path d="M322 1038L342 1038L343 1032L323 1033Z"/><path d="M302 1061L322 1038L323 1033L303 1054Z" stroke-width="1.4"/><path d="M302 1061L303 1054M322 1038L323 1033"/></g>
<rect x="985" y="559" width="960" height="659" fill="#e5e5e5"/>
<g fill="#fff" stroke="#9e9e9e" stroke-width="2" stroke-linejoin="miter"><polygon points="1211.9,1047.9 1630.8,1058.2 1678.5,903.7 1257.2,890.5"/><polygon points="1206.6,768.3 1254.6,615.3 1257.2,890.5 1211.9,1047.9"/><polygon points="1254.6,615.3 1674.1,624.7 1678.5,903.7 1257.2,890.5"/></g>
<text x="1155.7" y="800.9" font-size="20" textLength="22.9" lengthAdjust="spacingAndGlyphs" fill="#141014">24</text><text x="1155.7" y="875" font-size="20" textLength="22.9" lengthAdjust="spacingAndGlyphs" fill="#141014">18</text><text x="1155.7" y="949.5" font-size="20" textLength="22.9" lengthAdjust="spacingAndGlyphs" fill="#141014">12</text><text x="1167.1" y="1023.7" font-size="20" textLength="11.4" lengthAdjust="spacingAndGlyphs" fill="#141014">6</text><path d="M1207.1 797.2h-6.5M1208.6 871.3h-6.5M1210 945.8h-6.5M1211.4 1020h-6.5" stroke="#9e9e9e" stroke-width="2" fill="none"/>
<path d="M1218.4 1048.1l0 4.5M1368.5 1051.8l0 4.5M1518.7 1055.5l0 4.5" stroke="#9e9e9e" stroke-width="2" fill="none"/>
<path d="M1675 912l6.5 0M1661.7 957.6l6.5 0M1647.6 1003.2l6.5 0M1633.5 1050l6.5 0" stroke="#9e9e9e" stroke-width="2" fill="none"/>
<g stroke="#141014" stroke-width="0.3"><text x="1196.9" y="1076.8" font-size="20" textLength="26.8" lengthAdjust="spacingAndGlyphs" fill="#141014">0.3</text><text x="1347" y="1081.2" font-size="20" textLength="26.8" lengthAdjust="spacingAndGlyphs" fill="#141014">0.4</text><text x="1496.6" y="1085.3" font-size="20" textLength="27.4" lengthAdjust="spacingAndGlyphs" fill="#141014">0.5</text><text x="1701.4" y="917.8" font-size="20" textLength="38.9" lengthAdjust="spacingAndGlyphs" fill="#141014">0.15</text><text x="1687.9" y="963.2" font-size="20" textLength="39.1" lengthAdjust="spacingAndGlyphs" fill="#141014">0.10</text><text x="1674.1" y="1008.8" font-size="20" textLength="39.1" lengthAdjust="spacingAndGlyphs" fill="#141014">0.05</text><text x="1660.8" y="1055.9" font-size="20" textLength="38.3" lengthAdjust="spacingAndGlyphs" fill="#141014">0.00</text></g>
<text x="1003.5" y="764.8" font-size="27" textLength="182.5" lengthAdjust="spacingAndGlyphs" fill="#141014">Methanol (ml)</text>
<text x="1697.6" y="883.7" font-size="27" textLength="183.4" lengthAdjust="spacingAndGlyphs" fill="#141014">Ammonia (ml)</text>
<text x="1318.4" y="1120.9" font-size="27" textLength="187.9" lengthAdjust="spacingAndGlyphs" fill="#141014">Rf (Probencid)</text>
<text x="1075.6" y="734.5" font-size="38" textLength="47.1" lengthAdjust="spacingAndGlyphs">(D)</text>
<g fill="#e4e4e4" stroke="#540c6d" stroke-width="1.9" stroke-linecap="square"><path d="M1631 702L1650 708L1652 700L1634 694Z" stroke-width="1.8"/><path d="M1613 696L1631 702L1634 694L1615 687Z" stroke-width="1.8"/><path d="M1595 690L1613 696L1615 687L1597 681Z" stroke-width="1.8"/><path d="M1595 690L1597 681M1613 696L1615 687"/><path d="M1576 685L1595 690L1597 681L1578 676Z" stroke-width="1.8"/><path d="M1576 685L1578 676M1595 690L1597 681"/><path d="M1558 679L1576 685L1578 676L1560 670Z" stroke-width="1.8"/><path d="M1558 679L1560 670M1576 685L1578 676"/><path d="M1539 675L1558 679L1560 670L1541 666Z" stroke-width="1.8"/><path d="M1539 675L1541 666M1558 679L1560 670"/><path d="M1521 669L1539 675L1541 666L1523 662Z" stroke-width="1.8"/><path d="M1521 669L1523 662M1539 675L1541 666"/><path d="M1502 666L1521 669L1523 662L1504 658Z"/><path d="M1484 663L1502 666L1504 658L1486 654Z"/><path d="M1465 659L1484 663L1486 654L1467 650Z"/><path d="M1447 657L1465 659L1467 650L1449 648Z"/><path d="M1428 654L1447 657L1449 648L1431 645Z"/><path d="M1410 652L1428 654L1431 645L1412 642Z"/><path d="M1392 650L1410 652L1412 642L1394 641Z"/><path d="M1373 649L1392 650L1394 641L1375 640Z"/><path d="M1355 648L1373 649L1375 640L1357 639Z"/><path d="M1336 647L1355 648L1357 639L1338 639Z"/><path d="M1318 646L1336 647L1338 639L1320 638Z"/><path d="M1299 645L1318 646L1320 638L1301 638Z"/><path d="M1629 712L1648 718L1650 708L1631 702Z" stroke-width="1.8"/><path d="M1629 712L1631 702M1648 718L1650 708"/><path d="M1611 707L1629 712L1631 702L1613 696Z" stroke-width="1.8"/><path d="M1611 707L1613 696M1629 712L1631 702"/><path d="M1593 702L1611 707L1613 696L1595 690Z" stroke-width="1.8"/><path d="M1593 702L1595 690M1611 707L1613 696"/><path d="M1574 697L1593 702L1595 690L1576 685Z" stroke-width="1.8"/><path d="M1574 697L1576 685M1593 702L1595 690"/><path d="M1556 692L1574 697L1576 685L1558 679Z" stroke-width="1.8"/><path d="M1556 692L1558 679M1574 697L1576 685"/><path d="M1537 688L1556 692L1558 679L1539 675Z" stroke-width="1.8"/><path d="M1537 688L1539 675M1556 692L1558 679"/><path d="M1519 681L1537 688L1539 675L1521 669Z" stroke-width="1.8"/><path d="M1519 681L1521 669M1537 688L1539 675"/><path d="M1500 679L1519 681L1521 669L1502 666Z"/><path d="M1482 676L1500 679L1502 666L1484 663Z"/><path d="M1463 674L1482 676L1484 663L1465 659Z"/><path d="M1445 672L1463 674L1465 659L1447 657Z"/><path d="M1426 670L1445 672L1447 657L1428 654Z"/><path d="M1408 669L1426 670L1428 654L1410 652Z"/><path d="M1390 668L1408 669L1410 652L1392 650Z"/><path d="M1371 668L1390 668L1392 650L1373 649Z"/><path d="M1353 669L1371 668L1373 649L1355 648Z"/><path d="M1334 671L1353 669L1355 648L1336 647Z"/><path d="M1316 674L1334 671L1336 647L1318 646Z"/><path d="M1298 686L1316 674L1318 646L1299 645Z" stroke-width="1.6"/><path d="M1298 686L1299 645M1316 674L1318 646"/><path d="M1627 724L1646 728L1648 718L1629 712Z" stroke-width="1.8"/><path d="M1627 724L1629 712M1646 728L1648 718"/><path d="M1609 720L1627 724L1629 712L1611 707Z" stroke-width="1.8"/><path d="M1609 720L1611 707M1627 724L1629 712"/><path d="M1591 715L1609 720L1611 707L1593 702Z" stroke-width="1.8"/><path d="M1591 715L1593 702M1609 720L1611 707"/><path d="M1572 711L1591 715L1593 702L1574 697Z" stroke-width="1.8"/><path d="M1572 711L1574 697M1591 715L1593 702"/><path d="M1554 707L1572 711L1574 697L1556 692Z" stroke-width="1.8"/><path d="M1554 707L1556 692M1572 711L1574 697"/><path d="M1535 703L1554 707L1556 692L1537 688Z"/><path d="M1517 695L1535 703L1537 688L1519 681Z" stroke-width="1.7"/><path d="M1517 695L1519 681M1535 703L1537 688"/><path d="M1498 695L1517 695L1519 681L1500 679Z"/><path d="M1480 692L1498 695L1500 679L1482 676Z"/><path d="M1461 691L1480 692L1482 676L1463 674Z"/><path d="M1443 690L1461 691L1463 674L1445 672Z"/><path d="M1425 690L1443 690L1445 672L1426 670Z"/><path d="M1406 690L1425 690L1426 670L1408 669Z"/><path d="M1388 692L1406 690L1408 669L1390 668Z"/><path d="M1369 694L1388 692L1390 668L1371 668Z"/><path d="M1351 698L1369 694L1371 668L1353 669Z"/><path d="M1333 703L1351 698L1353 669L1334 671Z" stroke-width="1.8"/><path d="M1333 703L1334 671M1351 698L1353 669"/><path d="M1314 712L1333 703L1334 671L1316 674Z" stroke-width="1.7"/><path d="M1314 712L1316 674M1333 703L1334 671"/><path d="M1296 728L1314 712L1316 674L1298 686Z" stroke-width="1.4"/><path d="M1296 728L1298 686M1314 712L1316 674"/><path d="M1626 736L1644 738L1646 728L1627 724Z"/><path d="M1607 733L1626 736L1627 724L1609 720Z" stroke-width="1.8"/><path d="M1607 733L1609 720M1626 736L1627 724"/><path d="M1589 729L1607 733L1609 720L1591 715Z"/><path d="M1570 726L1589 729L1591 715L1572 711Z"/><path d="M1552 723L1570 726L1572 711L1554 707Z"/><path d="M1534 720L1552 723L1554 707L1535 703Z"/><path d="M1515 710L1534 720L1535 703L1517 695Z" stroke-width="1.7"/><path d="M1515 710L1517 695M1534 720L1535 703"/><path d="M1496 711L1515 710L1517 695L1498 695Z"/><path d="M1478 710L1496 711L1498 695L1480 692Z"/><path d="M1459 710L1478 710L1480 692L1461 691Z"/><path d="M1441 710L1459 710L1461 691L1443 690Z"/><path d="M1423 711L1441 710L1443 690L1425 690Z"/><path d="M1404 713L1423 711L1425 690L1406 690Z"/><path d="M1386 716L1404 713L1406 690L1388 692Z"/><path d="M1368 720L1386 716L1388 692L1369 694Z"/><path d="M1349 725L1368 720L1369 694L1351 698Z" stroke-width="1.8"/><path d="M1349 725L1351 698M1368 720L1369 694"/><path d="M1331 731L1349 725L1351 698L1333 703Z" stroke-width="1.8"/><path d="M1331 731L1333 703M1349 725L1351 698"/><path d="M1313 735L1331 731L1333 703L1314 712Z" stroke-width="1.7"/><path d="M1313 735L1314 712M1331 731L1333 703"/><path d="M1294 734L1313 735L1314 712L1296 728Z" stroke-width="1.4"/><path d="M1294 734L1296 728M1313 735L1314 712"/><path d="M1624 747L1642 748L1644 738L1626 736Z"/><path d="M1605 745L1624 747L1626 736L1607 733Z"/><path d="M1587 743L1605 745L1607 733L1589 729Z"/><path d="M1568 740L1587 743L1589 729L1570 726Z"/><path d="M1550 738L1568 740L1570 726L1552 723Z"/><path d="M1532 735L1550 738L1552 723L1534 720Z"/><path d="M1513 725L1532 735L1534 720L1515 710Z" stroke-width="1.7"/><path d="M1513 725L1515 710M1532 735L1534 720"/><path d="M1494 728L1513 725L1515 710L1496 711Z"/><path d="M1476 727L1494 728L1496 711L1478 710Z"/><path d="M1457 728L1476 727L1478 710L1459 710Z"/><path d="M1439 730L1457 728L1459 710L1441 710Z"/><path d="M1421 732L1439 730L1441 710L1423 711Z"/><path d="M1402 734L1421 732L1423 711L1404 713Z"/><path d="M1384 737L1402 734L1404 713L1386 716Z"/><path d="M1366 740L1384 737L1386 716L1368 720Z"/><path d="M1347 742L1366 740L1368 720L1349 725Z" stroke-width="1.8"/><path d="M1347 742L1349 725M1366 740L1368 720"/><path d="M1329 742L1347 742L1349 725L1331 731Z" stroke-width="1.8"/><path d="M1329 742L1331 731M1347 742L1349 725"/><path d="M1310 742L1329 742L1331 731L1313 735Z"/><path d="M1292 741L1310 742L1313 735L1294 734Z"/><path d="M1621 755L1640 756L1642 748L1624 747Z"/><path d="M1603 755L1621 755L1624 747L1605 745Z"/><path d="M1585 754L1603 755L1605 745L1587 743Z"/><path d="M1566 752L1585 754L1587 743L1568 740Z"/><path d="M1548 751L1566 752L1568 740L1550 738Z"/><path d="M1530 749L1548 751L1550 738L1532 735Z"/><path d="M1511 743L1530 749L1532 735L1513 725Z" stroke-width="1.7"/><path d="M1511 743L1513 725M1530 749L1532 735"/><path d="M1492 743L1511 743L1513 725L1494 728Z"/><path d="M1474 743L1492 743L1494 728L1476 727Z"/><path d="M1456 745L1474 743L1476 727L1457 728Z"/><path d="M1437 746L1456 745L1457 728L1439 730Z"/><path d="M1419 748L1437 746L1439 730L1421 732Z"/><path d="M1400 750L1419 748L1421 732L1402 734Z"/><path d="M1382 751L1400 750L1402 734L1384 737Z"/><path d="M1364 750L1382 751L1384 737L1366 740Z"/><path d="M1345 750L1364 750L1366 740L1347 742Z"/><path d="M1327 749L1345 750L1347 742L1329 742Z"/><path d="M1308 749L1327 749L1329 742L1310 742Z"/><path d="M1290 748L1308 749L1310 742L1292 741Z"/><path d="M1619 762L1638 763L1640 756L1621 755Z"/><path d="M1601 762L1619 762L1621 755L1603 755Z"/><path d="M1583 761L1601 762L1603 755L1585 754Z"/><path d="M1564 761L1583 761L1585 754L1566 752Z"/><path d="M1546 761L1564 761L1566 752L1548 751Z"/><path d="M1528 760L1546 761L1548 751L1530 749Z"/><path d="M1509 772L1528 760L1530 749L1511 743Z" stroke-width="1.6"/><path d="M1509 772L1511 743M1528 760L1530 749"/><path d="M1490 768L1509 772L1511 743L1492 743Z"/><path d="M1472 762L1490 768L1492 743L1474 743Z" stroke-width="1.8"/><path d="M1472 762L1474 743M1490 768L1492 743"/><path d="M1453 758L1472 762L1474 743L1456 745Z"/><path d="M1435 758L1453 758L1456 745L1437 746Z"/><path d="M1417 758L1435 758L1437 746L1419 748Z"/><path d="M1398 758L1417 758L1419 748L1400 750Z"/><path d="M1380 757L1398 758L1400 750L1382 751Z"/><path d="M1362 757L1380 757L1382 751L1364 750Z"/><path d="M1343 756L1362 757L1364 750L1345 750Z"/><path d="M1325 756L1343 756L1345 750L1327 749Z"/><path d="M1306 756L1325 756L1327 749L1308 749Z"/><path d="M1288 755L1306 756L1308 749L1290 748Z"/><path d="M1617 769L1636 769L1638 763L1619 762Z"/><path d="M1599 769L1617 769L1619 762L1601 762Z"/><path d="M1581 768L1599 769L1601 762L1583 761Z"/><path d="M1562 768L1581 768L1583 761L1564 761Z"/><path d="M1544 767L1562 768L1564 761L1546 761Z"/><path d="M1526 767L1544 767L1546 761L1528 760Z"/><path d="M1508 807L1526 767L1528 760L1509 772Z" stroke-width="1.6"/><path d="M1508 807L1509 772M1526 767L1528 760"/><path d="M1489 803L1508 807L1509 772L1490 768Z"/><path d="M1470 794L1489 803L1490 768L1472 762Z" stroke-width="1.7"/><path d="M1470 794L1472 762M1489 803L1490 768"/><path d="M1452 782L1470 794L1472 762L1453 758Z" stroke-width="1.6"/><path d="M1452 782L1453 758M1470 794L1472 762"/><path d="M1433 771L1452 782L1453 758L1435 758Z" stroke-width="1.7"/><path d="M1433 771L1435 758M1452 782L1453 758"/><path d="M1415 765L1433 771L1435 758L1417 758Z" stroke-width="1.8"/><path d="M1415 765L1417 758M1433 771L1435 758"/><path d="M1396 765L1415 765L1417 758L1398 758Z"/><path d="M1378 764L1396 765L1398 758L1380 757Z"/><path d="M1360 764L1378 764L1380 757L1362 757Z"/><path d="M1341 763L1360 764L1362 757L1343 756Z"/><path d="M1322 763L1341 763L1343 756L1325 756Z"/><path d="M1304 762L1322 763L1325 756L1306 756Z"/><path d="M1286 762L1304 762L1306 756L1288 755Z"/><path d="M1615 776L1634 776L1636 769L1617 769Z"/><path d="M1597 775L1615 776L1617 769L1599 769Z"/><path d="M1579 775L1597 775L1599 769L1581 768Z"/><path d="M1560 775L1579 775L1581 768L1562 768Z"/><path d="M1542 774L1560 775L1562 768L1544 767Z"/><path d="M1524 774L1542 774L1544 767L1526 767Z"/><path d="M1506 829L1524 774L1526 767L1508 807Z" stroke-width="1.7"/><path d="M1506 829L1508 807M1524 774L1526 767"/><path d="M1487 843L1506 829L1508 807L1489 803Z" stroke-width="1.5"/><path d="M1487 843L1489 803M1506 829L1508 807"/><path d="M1469 835L1487 843L1489 803L1470 794Z" stroke-width="1.7"/><path d="M1469 835L1470 794M1487 843L1489 803"/><path d="M1450 821L1469 835L1470 794L1452 782Z" stroke-width="1.5"/><path d="M1450 821L1452 782M1469 835L1470 794"/><path d="M1431 807L1450 821L1452 782L1433 771Z" stroke-width="1.5"/><path d="M1431 807L1433 771M1450 821L1452 782"/><path d="M1413 792L1431 807L1433 771L1415 765Z" stroke-width="1.5"/><path d="M1413 792L1415 765M1431 807L1433 771"/><path d="M1394 779L1413 792L1415 765L1396 765Z" stroke-width="1.6"/><path d="M1394 779L1396 765M1413 792L1415 765"/><path d="M1376 771L1394 779L1396 765L1378 764Z" stroke-width="1.8"/><path d="M1376 771L1378 764M1394 779L1396 765"/><path d="M1357 771L1376 771L1378 764L1360 764Z"/><path d="M1339 770L1357 771L1360 764L1341 763Z"/><path d="M1320 770L1339 770L1341 763L1322 763Z"/><path d="M1302 769L1320 770L1322 763L1304 762Z"/><path d="M1284 769L1302 769L1304 762L1286 762Z"/><path d="M1613 782L1632 783L1634 776L1615 776Z"/><path d="M1595 782L1613 782L1615 776L1597 775Z"/><path d="M1577 782L1595 782L1597 775L1579 775Z"/><path d="M1558 781L1577 782L1579 775L1560 775Z"/><path d="M1540 781L1558 781L1560 775L1542 774Z"/><path d="M1522 781L1540 781L1542 774L1524 774Z"/><path d="M1504 832L1522 781L1524 774L1506 829Z" stroke-width="1.8"/><path d="M1486 882L1504 832L1506 829L1487 843Z" stroke-width="1.5"/><path d="M1486 882L1487 843M1504 832L1506 829"/><path d="M1467 878L1486 882L1487 843L1469 835Z" stroke-width="1.7"/><path d="M1467 878L1469 835M1486 882L1487 843"/><path d="M1449 867L1467 878L1469 835L1450 821Z" stroke-width="1.5"/><path d="M1449 867L1450 821M1467 878L1469 835"/><path d="M1430 854L1449 867L1450 821L1431 807Z" stroke-width="1.5"/><path d="M1430 854L1431 807M1449 867L1450 821"/><path d="M1411 839L1430 854L1431 807L1413 792Z" stroke-width="1.5"/><path d="M1411 839L1413 792M1430 854L1431 807"/><path d="M1393 822L1411 839L1413 792L1394 779Z" stroke-width="1.4"/><path d="M1393 822L1394 779M1411 839L1413 792"/><path d="M1374 804L1393 822L1394 779L1376 771Z" stroke-width="1.4"/><path d="M1374 804L1376 771M1393 822L1394 779"/><path d="M1355 787L1374 804L1376 771L1357 771Z" stroke-width="1.4"/><path d="M1355 787L1357 771M1374 804L1376 771"/><path d="M1337 777L1355 787L1357 771L1339 770Z" stroke-width="1.7"/><path d="M1337 777L1339 770M1355 787L1357 771"/><path d="M1318 777L1337 777L1339 770L1320 770Z"/><path d="M1300 776L1318 777L1320 770L1302 769Z"/><path d="M1281 776L1300 776L1302 769L1284 769Z"/><path d="M1611 789L1629 790L1632 783L1613 782Z"/><path d="M1593 789L1611 789L1613 782L1595 782Z"/><path d="M1575 788L1593 789L1595 782L1577 782Z"/><path d="M1556 788L1575 788L1577 782L1558 781Z"/><path d="M1538 788L1556 788L1558 781L1540 781Z"/><path d="M1520 787L1538 788L1540 781L1522 781Z"/><path d="M1502 836L1520 787L1522 781L1504 832Z" stroke-width="1.8"/><path d="M1484 912L1502 836L1504 832L1486 882Z" stroke-width="1.8"/><path d="M1484 912L1486 882M1502 836L1504 832"/><path d="M1465 913L1484 912L1486 882L1467 878Z"/><path d="M1447 907L1465 913L1467 878L1449 867Z" stroke-width="1.6"/><path d="M1447 907L1449 867M1465 913L1467 878"/><path d="M1429 899L1447 907L1449 867L1430 854Z" stroke-width="1.6"/><path d="M1429 899L1430 854M1447 907L1449 867"/><path d="M1410 889L1429 899L1430 854L1411 839Z" stroke-width="1.5"/><path d="M1410 889L1411 839M1429 899L1430 854"/><path d="M1391 876L1410 889L1411 839L1393 822Z" stroke-width="1.4"/><path d="M1391 876L1393 822M1410 889L1411 839"/><path d="M1373 860L1391 876L1393 822L1374 804Z" stroke-width="1.4"/><path d="M1373 860L1374 804M1391 876L1393 822"/><path d="M1354 840L1373 860L1374 804L1355 787Z" stroke-width="1.4"/><path d="M1354 840L1355 787M1373 860L1374 804"/><path d="M1335 828L1354 840L1355 787L1337 777Z" stroke-width="1.6"/><path d="M1335 828L1337 777M1354 840L1355 787"/><path d="M1316 800L1335 828L1337 777L1318 777Z" stroke-width="1.6"/><path d="M1316 800L1318 777M1335 828L1337 777"/><path d="M1298 783L1316 800L1318 777L1300 776Z" stroke-width="1.4"/><path d="M1298 783L1300 776M1316 800L1318 777"/><path d="M1279 783L1298 783L1300 776L1281 776Z"/><path d="M1609 796L1627 796L1629 790L1611 789Z"/><path d="M1591 796L1609 796L1611 789L1593 789Z"/><path d="M1572 795L1591 796L1593 789L1575 788Z"/><path d="M1554 795L1572 795L1575 788L1556 788Z"/><path d="M1536 794L1554 795L1556 788L1538 788Z"/><path d="M1518 794L1536 794L1538 788L1520 787Z"/><path d="M1500 840L1518 794L1520 787L1502 836Z" stroke-width="1.8"/><path d="M1482 927L1500 840L1502 836L1484 912Z" stroke-width="1.8"/><path d="M1482 927L1484 912M1500 840L1502 836"/><path d="M1464 933L1482 927L1484 912L1465 913Z" stroke-width="1.8"/><path d="M1464 933L1465 913M1482 927L1484 912"/><path d="M1445 932L1464 933L1465 913L1447 907Z" stroke-width="1.8"/><path d="M1445 932L1447 907M1464 933L1465 913"/><path d="M1427 930L1445 932L1447 907L1429 899Z" stroke-width="1.7"/><path d="M1427 930L1429 899M1445 932L1447 907"/><path d="M1408 926L1427 930L1429 899L1410 889Z" stroke-width="1.7"/><path d="M1408 926L1410 889M1427 930L1429 899"/><path d="M1390 921L1408 926L1410 889L1391 876Z" stroke-width="1.6"/><path d="M1390 921L1391 876M1408 926L1410 889"/><path d="M1372 914L1390 921L1391 876L1373 860Z" stroke-width="1.4"/><path d="M1372 914L1373 860M1390 921L1391 876"/><path d="M1353 903L1372 914L1373 860L1354 840Z" stroke-width="1.4"/><path d="M1353 903L1354 840M1372 914L1373 860"/><path d="M1334 915L1353 903L1354 840L1335 828Z" stroke-width="1.6"/><path d="M1334 915L1335 828M1353 903L1354 840"/><path d="M1316 888L1334 915L1335 828L1316 800Z" stroke-width="1.6"/><path d="M1316 888L1316 800M1334 915L1335 828"/><path d="M1297 854L1316 888L1316 800L1298 783Z" stroke-width="1.4"/><path d="M1297 854L1298 783M1316 888L1316 800"/><path d="M1278 813L1297 854L1298 783L1279 783Z" stroke-width="1.7"/><path d="M1278 813L1279 783M1297 854L1298 783"/><path d="M1607 803L1625 803L1627 796L1609 796Z"/><path d="M1589 802L1607 803L1609 796L1591 796Z"/><path d="M1570 802L1589 802L1591 796L1572 795Z"/><path d="M1552 802L1570 802L1572 795L1554 795Z"/><path d="M1534 801L1552 802L1554 795L1536 794Z"/><path d="M1515 801L1534 801L1536 794L1518 794Z"/><path d="M1498 844L1515 801L1518 794L1500 840Z" stroke-width="1.8"/><path d="M1480 933L1498 844L1500 840L1482 927Z"/><path d="M1461 940L1480 933L1482 927L1464 933Z" stroke-width="1.8"/><path d="M1443 939L1461 940L1464 933L1445 932Z"/><path d="M1425 939L1443 939L1445 932L1427 930Z"/><path d="M1406 939L1425 939L1427 930L1408 926Z"/><path d="M1388 938L1406 939L1408 926L1390 921Z" stroke-width="1.8"/><path d="M1388 938L1390 921M1406 939L1408 926"/><path d="M1370 938L1388 938L1390 921L1372 914Z" stroke-width="1.8"/><path d="M1370 938L1372 914M1388 938L1390 921"/><path d="M1351 938L1370 938L1372 914L1353 903Z" stroke-width="1.6"/><path d="M1351 938L1353 903M1370 938L1372 914"/><path d="M1333 976L1351 938L1353 903L1334 915Z" stroke-width="1.6"/><path d="M1333 976L1334 915M1351 938L1353 903"/><path d="M1315 970L1333 976L1334 915L1316 888Z" stroke-width="1.6"/><path d="M1315 970L1316 888M1333 976L1334 915"/><path d="M1296 958L1315 970L1316 888L1297 854Z" stroke-width="1.6"/><path d="M1296 958L1297 854M1315 970L1316 888"/><path d="M1278 934L1296 958L1297 854L1278 813Z" stroke-width="1.5"/><path d="M1278 934L1278 813M1296 958L1297 854"/><path d="M1605 809L1623 810L1625 803L1607 803Z"/><path d="M1587 809L1605 809L1607 803L1589 802Z"/><path d="M1568 809L1587 809L1589 802L1570 802Z"/><path d="M1550 808L1568 809L1570 802L1552 802Z"/><path d="M1532 808L1550 808L1552 802L1534 801Z"/><path d="M1513 808L1532 808L1534 801L1515 801Z"/><path d="M1496 847L1513 808L1515 801L1498 844Z" stroke-width="1.7"/><path d="M1496 847L1498 844M1513 808L1515 801" stroke-width="1.8"/><path d="M1478 940L1496 847L1498 844L1480 933Z"/><path d="M1459 946L1478 940L1480 933L1461 940Z" stroke-width="1.8"/><path d="M1441 946L1459 946L1461 940L1443 939Z"/><path d="M1423 946L1441 946L1443 939L1425 939Z"/><path d="M1404 946L1423 946L1425 939L1406 939Z"/><path d="M1386 945L1404 946L1406 939L1388 938Z"/><path d="M1368 945L1386 945L1388 938L1370 938Z"/><path d="M1349 945L1368 945L1370 938L1351 938Z"/><path d="M1331 985L1349 945L1351 938L1333 976Z" stroke-width="1.7"/><path d="M1331 985L1333 976M1349 945L1351 938" stroke-width="1.8"/><path d="M1313 985L1331 985L1333 976L1315 970Z" stroke-width="1.8"/><path d="M1313 985L1315 970M1331 985L1333 976"/><path d="M1295 986L1313 985L1315 970L1296 958Z" stroke-width="1.6"/><path d="M1295 986L1296 958M1313 985L1315 970"/><path d="M1276 984L1295 986L1296 958L1278 934Z" stroke-width="1.5"/><path d="M1276 984L1278 934M1295 986L1296 958"/><path d="M1603 816L1621 816L1623 810L1605 809Z"/><path d="M1585 816L1603 816L1605 809L1587 809Z"/><path d="M1566 815L1585 816L1587 809L1568 809Z"/><path d="M1548 815L1566 815L1568 809L1550 808Z"/><path d="M1530 815L1548 815L1550 808L1532 808Z"/><path d="M1511 815L1530 815L1532 808L1513 808Z"/><path d="M1493 851L1511 815L1513 808L1496 847Z" stroke-width="1.7"/><path d="M1493 851L1496 847M1511 815L1513 808" stroke-width="1.8"/><path d="M1476 946L1493 851L1496 847L1478 940Z"/><path d="M1457 953L1476 946L1478 940L1459 946Z" stroke-width="1.8"/><path d="M1439 953L1457 953L1459 946L1441 946Z"/><path d="M1420 953L1439 953L1441 946L1423 946Z"/><path d="M1402 952L1420 953L1423 946L1404 946Z"/><path d="M1384 952L1402 952L1404 946L1386 945Z"/><path d="M1366 952L1384 952L1386 945L1368 945Z"/><path d="M1347 951L1366 952L1368 945L1349 945Z"/><path d="M1329 992L1347 951L1349 945L1331 985Z" stroke-width="1.7"/><path d="M1329 992L1331 985M1347 951L1349 945" stroke-width="1.8"/><path d="M1311 992L1329 992L1331 985L1313 985Z"/><path d="M1292 992L1311 992L1313 985L1295 986Z"/><path d="M1274 991L1292 992L1295 986L1276 984Z"/><path d="M1601 823L1619 823L1621 816L1603 816Z"/><path d="M1583 823L1601 823L1603 816L1585 816Z"/><path d="M1564 822L1583 823L1585 816L1566 815Z"/><path d="M1546 822L1564 822L1566 815L1548 815Z"/><path d="M1528 822L1546 822L1548 815L1530 815Z"/><path d="M1509 821L1528 822L1530 815L1511 815Z"/><path d="M1491 855L1509 821L1511 815L1493 851Z" stroke-width="1.7"/><path d="M1491 855L1493 851M1509 821L1511 815" stroke-width="1.8"/><path d="M1473 952L1491 855L1493 851L1476 946Z"/><path d="M1455 960L1473 952L1476 946L1457 953Z" stroke-width="1.7"/><path d="M1455 960L1457 953M1473 952L1476 946" stroke-width="1.8"/><path d="M1437 960L1455 960L1457 953L1439 953Z"/><path d="M1418 960L1437 960L1439 953L1420 953Z"/><path d="M1400 959L1418 960L1420 953L1402 952Z"/><path d="M1382 959L1400 959L1402 952L1384 952Z"/><path d="M1363 959L1382 959L1384 952L1366 952Z"/><path d="M1345 958L1363 959L1366 952L1347 951Z"/><path d="M1327 998L1345 958L1347 951L1329 992Z" stroke-width="1.7"/><path d="M1327 998L1329 992M1345 958L1347 951" stroke-width="1.8"/><path d="M1309 999L1327 998L1329 992L1311 992Z"/><path d="M1290 999L1309 999L1311 992L1292 992Z"/><path d="M1272 998L1290 999L1292 992L1274 991Z"/><path d="M1599 830L1617 830L1619 823L1601 823Z"/><path d="M1580 829L1599 830L1601 823L1583 823Z"/><path d="M1562 829L1580 829L1583 823L1564 822Z"/><path d="M1544 829L1562 829L1564 822L1546 822Z"/><path d="M1526 828L1544 829L1546 822L1528 822Z"/><path d="M1507 828L1526 828L1528 822L1509 821Z"/><path d="M1489 859L1507 828L1509 821L1491 855Z" stroke-width="1.6"/><path d="M1489 859L1491 855M1507 828L1509 821" stroke-width="1.8"/><path d="M1471 959L1489 859L1491 855L1473 952Z"/><path d="M1453 967L1471 959L1473 952L1455 960Z" stroke-width="1.7"/><path d="M1453 967L1455 960M1471 959L1473 952" stroke-width="1.8"/><path d="M1434 967L1453 967L1455 960L1437 960Z"/><path d="M1416 966L1434 967L1437 960L1418 960Z"/><path d="M1398 966L1416 966L1418 960L1400 959Z"/><path d="M1380 966L1398 966L1400 959L1382 959Z"/><path d="M1361 966L1380 966L1382 959L1363 959Z"/><path d="M1343 965L1361 966L1363 959L1345 958Z"/><path d="M1325 1005L1343 965L1345 958L1327 998Z" stroke-width="1.7"/><path d="M1325 1005L1327 998M1343 965L1345 958" stroke-width="1.8"/><path d="M1306 1006L1325 1005L1327 998L1309 999Z"/><path d="M1288 1006L1306 1006L1309 999L1290 999Z"/><path d="M1270 1005L1288 1006L1290 999L1272 998Z"/><path d="M1597 836L1615 837L1617 830L1599 830Z"/><path d="M1578 836L1597 836L1599 830L1580 829Z"/><path d="M1560 836L1578 836L1580 829L1562 829Z"/><path d="M1542 835L1560 836L1562 829L1544 829Z"/><path d="M1524 835L1542 835L1544 829L1526 828Z"/><path d="M1505 835L1524 835L1526 828L1507 828Z"/><path d="M1487 862L1505 835L1507 828L1489 859Z" stroke-width="1.6"/><path d="M1487 862L1489 859M1505 835L1507 828" stroke-width="1.8"/><path d="M1469 963L1487 862L1489 859L1471 959Z"/><path d="M1451 974L1469 963L1471 959L1453 967Z" stroke-width="1.7"/><path d="M1451 974L1453 967M1469 963L1471 959" stroke-width="1.8"/><path d="M1432 974L1451 974L1453 967L1434 967Z"/><path d="M1414 973L1432 974L1434 967L1416 966Z"/><path d="M1396 973L1414 973L1416 966L1398 966Z"/><path d="M1377 973L1396 973L1398 966L1380 966Z"/><path d="M1359 973L1377 973L1380 966L1361 966Z"/><path d="M1341 972L1359 973L1361 966L1343 965Z"/><path d="M1323 1012L1341 972L1343 965L1325 1005Z" stroke-width="1.7"/><path d="M1323 1012L1325 1005M1341 972L1343 965" stroke-width="1.8"/><path d="M1304 1013L1323 1012L1325 1005L1306 1006Z"/><path d="M1286 1013L1304 1013L1306 1006L1288 1006Z"/><path d="M1268 1012L1286 1013L1288 1006L1270 1005Z"/><path d="M1595 843L1613 843L1615 837L1597 836Z"/><path d="M1576 843L1595 843L1597 836L1578 836Z"/><path d="M1558 843L1576 843L1578 836L1560 836Z"/><path d="M1540 842L1558 843L1560 836L1542 835Z"/><path d="M1521 842L1540 842L1542 835L1524 835Z"/><path d="M1503 842L1521 842L1524 835L1505 835Z"/><path d="M1485 866L1503 842L1505 835L1487 862Z" stroke-width="1.5"/><path d="M1485 866L1487 862M1503 842L1505 835" stroke-width="1.8"/><path d="M1467 965L1485 866L1487 862L1469 963Z"/><path d="M1448 981L1467 965L1469 963L1451 974Z" stroke-width="1.4"/><path d="M1448 981L1451 974M1467 965L1469 963" stroke-width="1.8"/><path d="M1430 980L1448 981L1451 974L1432 974Z"/><path d="M1412 980L1430 980L1432 974L1414 973Z"/><path d="M1394 980L1412 980L1414 973L1396 973Z"/><path d="M1375 980L1394 980L1396 973L1377 973Z"/><path d="M1357 979L1375 980L1377 973L1359 973Z"/><path d="M1339 979L1357 979L1359 973L1341 972Z"/><path d="M1320 1019L1339 979L1341 972L1323 1012Z" stroke-width="1.7"/><path d="M1320 1019L1323 1012M1339 979L1341 972" stroke-width="1.8"/><path d="M1302 1020L1320 1019L1323 1012L1304 1013Z"/><path d="M1284 1020L1302 1020L1304 1013L1286 1013Z"/><path d="M1266 1018L1284 1020L1286 1013L1268 1012Z"/><path d="M1593 850L1611 850L1613 843L1595 843Z"/><path d="M1574 850L1593 850L1595 843L1576 843Z"/><path d="M1556 849L1574 850L1576 843L1558 843Z"/><path d="M1538 849L1556 849L1558 843L1540 842Z"/><path d="M1519 849L1538 849L1540 842L1521 842Z"/><path d="M1501 848L1519 849L1521 842L1503 842Z"/><path d="M1483 870L1501 848L1503 842L1485 866Z" stroke-width="1.4"/><path d="M1483 870L1485 866M1501 848L1503 842" stroke-width="1.8"/><path d="M1465 967L1483 870L1485 866L1467 965Z"/><path d="M1446 988L1465 967L1467 965L1448 981Z" stroke-width="1.4"/><path d="M1446 988L1448 981M1465 967L1467 965" stroke-width="1.8"/><path d="M1428 987L1446 988L1448 981L1430 980Z"/><path d="M1410 987L1428 987L1430 980L1412 980Z"/><path d="M1391 987L1410 987L1412 980L1394 980Z"/><path d="M1373 987L1391 987L1394 980L1375 980Z"/><path d="M1355 986L1373 987L1375 980L1357 979Z"/><path d="M1337 986L1355 986L1357 979L1339 979Z"/><path d="M1318 1026L1337 986L1339 979L1320 1019Z" stroke-width="1.7"/><path d="M1318 1026L1320 1019M1337 986L1339 979" stroke-width="1.8"/><path d="M1300 1026L1318 1026L1320 1019L1302 1020Z"/><path d="M1282 1027L1300 1026L1302 1020L1284 1020Z"/><path d="M1264 1025L1282 1027L1284 1020L1266 1018Z"/></g>
<rect x="1" y="1218" width="965" height="643" fill="#ebebeb"/>
<path d="M1.8 1861V1218.8H966" fill="none" stroke="#d2d2d2" stroke-width="1.5"/>
<clipPath id="clipE"><rect x="95.8" y="1273.9" width="825.5" height="495.9"/></clipPath>
<g clip-path="url(#clipE)">
<rect x="95.8" y="1273.9" width="825.5" height="495.9" fill="#54b05c"/>
<polygon points="463.6,1268.9 460.6,1273.9 453.2,1290.6 445.9,1314.2 440.6,1349.5 442.9,1393.6 448.8,1408.3 467.9,1434.8 482.6,1452.5 484.7,1455.4 506.8,1473.1 543.6,1492.2 581.8,1508.4 623,1523.1 681.9,1532.5 723.1,1537 793.7,1537 861.4,1534.3 926.3,1529.6 926.3,1268.9" fill="#00841e"/>
<polygon points="771.6,1268.9 771.6,1273.9 768.7,1296.5 764.3,1309.8 754,1318.6 743.7,1320.1 684.8,1318.6 626,1324.5 593.6,1334.8 570.1,1349.5 555.3,1367.1 550,1384.8 550,1405.4 555.3,1417.2 567.1,1431.9 586.2,1446 626,1456.9 661.3,1460.7 687.8,1457.8 714.3,1450.1 743.7,1440.7 764.3,1428.9 776.1,1417.2 782.5,1405.4 789.3,1384.8 795.2,1367.1 801.7,1355.4 861.4,1359.8 926.3,1363.6 926.3,1268.9" fill="#006c02"/>
<polygon points="90.8,1268.9 183.6,1268.9 173.6,1285.3 157.4,1292.7 136.8,1298.6 90.8,1305.1" fill="#84ce92"/>
<polygon points="90.8,1447.5 132.4,1444.2 156,1439.2 185.4,1426 226.6,1395.7 254.6,1382.4 279,1382.4 317.8,1403.9 332.5,1415.7 367.9,1446.6 406.1,1476 459.1,1509.9 470,1518.7 508.3,1540.8 552.4,1558.4 611.3,1580.5 652.5,1593.7 714.3,1611.4 779,1627.6 837.9,1639.4 882,1648.2 926.3,1654.1 926.3,1774.8 90.8,1774.8" fill="#84ce92"/>
<polygon points="90.8,1499.6 156,1497.8 214.8,1496.6 273.7,1500.2 311.9,1508.4 376.7,1534.9 417.9,1558.4 465,1582 470,1586.4 514.1,1609.9 567.1,1636.4 602.4,1655.6 628.9,1667.3 684.8,1695.3 743.7,1726.2 793.7,1752.7 824.6,1769.4 832,1776.2 926.3,1774.8 90.8,1774.8" fill="#80a8dc"/>
<polygon points="90.8,1548.7 164.8,1552.5 214.8,1559 253.1,1565.8 311.9,1585.8 376.7,1615.8 453.2,1664.4 470,1676.2 499.4,1699.7 537.7,1732.1 567.1,1760 574.5,1769.4 580.4,1776.2 926.3,1774.8 90.8,1774.8" fill="#2560e4"/>
<polygon points="90.8,1682.6 156,1677.6 214.8,1670.9 253.1,1675.6 294.3,1690.9 323.7,1708.5 350.2,1733.5 379.6,1769.4 385.5,1776.2 926.3,1774.8 90.8,1774.8" fill="#1010e6"/>
<polygon points="90.8,1746.9 115.3,1745.7 133,1745.1 150.6,1747.1 164.8,1751.8 185.9,1761.2 194.2,1769.5 196.5,1772.4 90.8,1774.8" fill="#120eb8"/>
</g>
<rect x="95.8" y="1273.9" width="825.5" height="495.9" fill="none" stroke="#a3a3a3" stroke-width="1.8"/>
<path d="M95.8 1769.8v7M205.9 1769.8v7M315.9 1769.8v7M426 1769.8v7M536.1 1769.8v7M646.1 1769.8v7M756.2 1769.8v7M866.3 1769.8v7M95.8 1769.8h-5.3M95.8 1645.8h-5.3M95.8 1521.8h-5.3M95.8 1397.9h-5.3M95.8 1273.9h-5.3" stroke="#a3a3a3" stroke-width="1.6" fill="none"/>
<g stroke="#000" stroke-width="0.3">
<text x="78.6" y="1793.2" font-size="17.6" textLength="34.3" lengthAdjust="spacingAndGlyphs">0.00</text>
<text x="188.7" y="1793.2" font-size="17.6" textLength="34.3" lengthAdjust="spacingAndGlyphs">0.02</text>
<text x="298.7" y="1793.2" font-size="17.6" textLength="34.3" lengthAdjust="spacingAndGlyphs">0.04</text>
<text x="408.8" y="1793.2" font-size="17.6" textLength="34.3" lengthAdjust="spacingAndGlyphs">0.06</text>
<text x="518.9" y="1793.2" font-size="17.6" textLength="34.3" lengthAdjust="spacingAndGlyphs">0.08</text>
<text x="628.9" y="1793.2" font-size="17.6" textLength="34.3" lengthAdjust="spacingAndGlyphs">0.10</text>
<text x="739" y="1793.2" font-size="17.6" textLength="34.3" lengthAdjust="spacingAndGlyphs">0.12</text>
<text x="849.1" y="1793.2" font-size="17.6" textLength="34.3" lengthAdjust="spacingAndGlyphs">0.14</text>
<text x="76.7" y="1774.5" font-size="17.6" textLength="9.3" lengthAdjust="spacingAndGlyphs">5</text>
<text x="67.3" y="1650.5" font-size="17.6" textLength="18.7" lengthAdjust="spacingAndGlyphs">10</text>
<text x="67.3" y="1526.5" font-size="17.6" textLength="18.7" lengthAdjust="spacingAndGlyphs">15</text>
<text x="67.3" y="1402.6" font-size="17.6" textLength="18.7" lengthAdjust="spacingAndGlyphs">20</text>
<text x="67.3" y="1278.6" font-size="17.6" textLength="18.7" lengthAdjust="spacingAndGlyphs">25</text>
</g>
<g stroke="#000" stroke-width="0.7" stroke-linejoin="round">
<text x="432.8" y="1828.9" font-size="23.3" textLength="148.7" lengthAdjust="spacingAndGlyphs">Ammonia (ml)</text>
<text x="52.4" y="1596.7" font-size="23.3" textLength="148.7" lengthAdjust="spacingAndGlyphs" transform="rotate(-90 52.4 1596.7)">Methanol (ml)</text>
</g>
<text x="264.9" y="1342.1" font-size="20" textLength="101.5" lengthAdjust="spacingAndGlyphs">2150-2200</text>
<text x="229.5" y="1453" font-size="20" textLength="101.5" lengthAdjust="spacingAndGlyphs">2100-2150</text>
<text x="646.6" y="1373" font-size="20" textLength="58.8" lengthAdjust="spacingAndGlyphs">&gt;2250</text>
<text x="676" y="1479.6" font-size="20" textLength="101.5" lengthAdjust="spacingAndGlyphs">2200-2250</text>
<text x="403.8" y="1623.8" font-size="20" textLength="101.5" lengthAdjust="spacingAndGlyphs" fill="#fff">2050-2100</text>
<text x="289.9" y="1667.9" font-size="20" textLength="101.5" lengthAdjust="spacingAndGlyphs" fill="#fff">2000-2050</text>
<text x="188.9" y="1728.2" font-size="20" textLength="101.9" lengthAdjust="spacingAndGlyphs" fill="#fff">1950-2000</text>
<text x="104.1" y="1761.2" font-size="20" textLength="58.9" lengthAdjust="spacingAndGlyphs" fill="#fff">&lt;1950</text>
<text x="421.4" y="1377.4" font-size="31" textLength="344.4" lengthAdjust="spacingAndGlyphs">(E) Peak area (Colchicine)</text>
<rect x="968.3" y="1222.3" width="961.7" height="640.4" fill="#ebebeb"/>
<path d="M969 1862.7V1223H1930" fill="none" stroke="#d2d2d2" stroke-width="1.5"/>
<clipPath id="clipF"><rect x="1062.9" y="1278.9" width="822.4" height="494.1"/></clipPath>
<g clip-path="url(#clipF)">
<rect x="1062.9" y="1278.9" width="822.4" height="494.1" fill="#00841e"/>
<polygon points="1057.9,1534.9 1163.1,1534.9 1180.7,1533.4 1239.6,1533.4 1298.4,1537.2 1336.7,1545.2 1395.6,1562.8 1422,1573.1 1446,1580.5 1484.3,1596.7 1534.3,1614.3 1584.3,1632 1628.5,1646.7 1652,1654.1 1690.3,1667.3 1740.3,1682.6 1781.5,1695.3 1822.7,1708.5 1890.3,1726.8 1890.3,1778 1057.9,1778" fill="#54b05c"/>
<polygon points="1057.9,1747.4 1077.7,1743.8 1104.2,1730.6 1124.8,1726.8 1180.7,1720.9 1216,1723.8 1239.6,1727.7 1269,1737.4 1298.4,1751.2 1329.3,1772.7 1333.7,1776.2 1057.9,1778" fill="#84ce92"/>
<polygon points="1057.9,1762.4 1083.6,1764.4 1107.1,1766.8 1121.9,1769.1 1130.7,1772.7 1136.6,1776.2 1057.9,1778" fill="#a6e6bc"/>
</g>
<rect x="1062.9" y="1278.9" width="822.4" height="494.1" fill="none" stroke="#a3a3a3" stroke-width="1.8"/>
<path d="M1062.9 1773v7M1172.6 1773v7M1282.2 1773v7M1391.9 1773v7M1501.5 1773v7M1611.2 1773v7M1720.8 1773v7M1830.5 1773v7M1062.9 1773h-5.3M1062.9 1649.5h-5.3M1062.9 1526h-5.3M1062.9 1402.4h-5.3M1062.9 1278.9h-5.3" stroke="#a3a3a3" stroke-width="1.6" fill="none"/>
<g stroke="#000" stroke-width="0.3">
<text x="1045.7" y="1795.9" font-size="17.6" textLength="34.3" lengthAdjust="spacingAndGlyphs">0.00</text>
<text x="1155.4" y="1795.9" font-size="17.6" textLength="34.3" lengthAdjust="spacingAndGlyphs">0.02</text>
<text x="1265" y="1795.9" font-size="17.6" textLength="34.3" lengthAdjust="spacingAndGlyphs">0.04</text>
<text x="1374.7" y="1795.9" font-size="17.6" textLength="34.3" lengthAdjust="spacingAndGlyphs">0.06</text>
<text x="1484.3" y="1795.9" font-size="17.6" textLength="34.3" lengthAdjust="spacingAndGlyphs">0.08</text>
<text x="1594" y="1795.9" font-size="17.6" textLength="34.3" lengthAdjust="spacingAndGlyphs">0.10</text>
<text x="1703.6" y="1795.9" font-size="17.6" textLength="34.3" lengthAdjust="spacingAndGlyphs">0.12</text>
<text x="1813.3" y="1795.9" font-size="17.6" textLength="34.3" lengthAdjust="spacingAndGlyphs">0.14</text>
<text x="1044.8" y="1777.7" font-size="17.6" textLength="9.3" lengthAdjust="spacingAndGlyphs">5</text>
<text x="1035.4" y="1654.2" font-size="17.6" textLength="18.7" lengthAdjust="spacingAndGlyphs">10</text>
<text x="1035.4" y="1530.7" font-size="17.6" textLength="18.7" lengthAdjust="spacingAndGlyphs">15</text>
<text x="1035.4" y="1407.1" font-size="17.6" textLength="18.7" lengthAdjust="spacingAndGlyphs">20</text>
<text x="1035.4" y="1283.6" font-size="17.6" textLength="18.7" lengthAdjust="spacingAndGlyphs">25</text>
</g>
<g stroke="#000" stroke-width="0.7" stroke-linejoin="round">
<text x="1398.5" y="1832" font-size="23.3" textLength="148.7" lengthAdjust="spacingAndGlyphs">Ammonia (ml)</text>
<text x="1018.9" y="1599" font-size="23.3" textLength="146.5" lengthAdjust="spacingAndGlyphs" transform="rotate(-90 1018.9 1599)">Methanol (ml)</text>
</g>
<text x="1266.7" y="1374.5" font-size="20" textLength="124.5" lengthAdjust="spacingAndGlyphs">10100-10200</text>
<text x="1396.4" y="1684.4" font-size="20" textLength="124.6" lengthAdjust="spacingAndGlyphs">10000-10100</text>
<text x="1152.8" y="1757.7" font-size="20" textLength="112.7" lengthAdjust="spacingAndGlyphs">9900-10000</text>
<text x="1065.4" y="1764.4" font-size="20" textLength="59.4" lengthAdjust="spacingAndGlyphs">&lt;9900</text>
<text x="1361.7" y="1411.3" font-size="31" textLength="342.7" lengthAdjust="spacingAndGlyphs">(F) Peak area (Probencid)</text>
<rect x="1" y="1864.5" width="966.3" height="635" fill="#ebebeb"/>
<path d="M1.8 2499.5V1865.2H967.3" fill="none" stroke="#d2d2d2" stroke-width="1.5"/>
<clipPath id="clipG"><rect x="96" y="1920.3" width="826.4" height="490.3"/></clipPath>
<g clip-path="url(#clipG)">
<rect x="96" y="1920.3" width="826.4" height="490.3" fill="#54b05c"/>
<polygon points="189.8,1915.3 197.8,1920.3 217.8,1935.6 235.4,1956.2 254.6,1982.7 269.3,2012.1 275.2,2026.8 278.1,2050.3 281,2079.8 285.5,2106.3 291.3,2129.8 309,2156.3 320.8,2166.6 335.5,2175.4 359,2188.7 379.6,2203.4 412,2221 453.2,2241.6 470,2250.5 523,2275.5 570.1,2299.6 581.8,2306.4 628.9,2329.9 652.5,2344.6 687.8,2362.3 723.1,2381.4 746.6,2394.7 758.4,2402.9 773.1,2410.6 781.9,2416.7 927.4,2415.6 927.4,1915.3" fill="#00841e"/>
<polygon points="424.8,1915.3 423.8,1920.3 419.4,1947.3 415.8,1979.7 416.4,2023.9 419.4,2047.4 434.1,2085.7 447.3,2103.3 462,2119.5 482.6,2135.7 493.5,2144.5 511.2,2154.8 543.6,2172.5 581.8,2187.2 623,2200.4 661.3,2211.6 723.1,2222.5 764.3,2228.4 814.3,2235.7 861.4,2239.3 927.4,2244 927.4,1915.3" fill="#006c02"/>
<polygon points="756.9,1915.3 756.9,1920.3 754.9,1932.6 745.2,1948.8 730.4,1956.2 670.1,1962.1 628.9,1967.9 592.1,1979.7 574.5,1990 558.3,2006.2 548,2023.9 547.1,2050.3 555.3,2068 567.1,2079.8 581.8,2090.1 602.4,2098.9 626,2105.4 667.2,2107.7 687.8,2106.3 720.1,2098.9 746.6,2091.5 777.5,2072.4 789.3,2060.6 804,2038.6 814.3,2025.9 832,2019.4 927.4,2018.9 927.4,1915.3" fill="#045014"/>
<polygon points="91,2204.8 138.3,2207.8 156,2211.3 179.5,2224 189.2,2238.1 194.2,2262.2 194.2,2271.1 187.8,2283.4 170.7,2294 155.4,2302.8 126.5,2312.3 91,2316.1" fill="#00841e"/>
<polygon points="91,2327.9 156,2329.3 217.8,2329.3 273.7,2332.9 311.9,2341.7 338.4,2352.9 367.9,2365.2 385.5,2377 412,2399.1 423.8,2410.6 429.7,2416.7 91,2415.6" fill="#84ce92"/>
<polygon points="91,2359.4 138.3,2368.8 156,2375.5 188.3,2396.1 197.8,2410.6 201.6,2416.7 91,2415.6" fill="#a6e6bc"/>
</g>
<rect x="96" y="1920.3" width="826.4" height="490.3" fill="none" stroke="#a3a3a3" stroke-width="1.8"/>
<path d="M96 2410.6v7M206.2 2410.6v7M316.4 2410.6v7M426.6 2410.6v7M536.7 2410.6v7M646.9 2410.6v7M757.1 2410.6v7M867.3 2410.6v7M96 2410.6h-5.3M96 2288h-5.3M96 2165.4h-5.3M96 2042.9h-5.3M96 1920.3h-5.3" stroke="#a3a3a3" stroke-width="1.6" fill="none"/>
<g stroke="#000" stroke-width="0.3">
<text x="78.8" y="2433.4" font-size="17.6" textLength="34.3" lengthAdjust="spacingAndGlyphs">0.00</text>
<text x="189" y="2433.4" font-size="17.6" textLength="34.3" lengthAdjust="spacingAndGlyphs">0.02</text>
<text x="299.2" y="2433.4" font-size="17.6" textLength="34.3" lengthAdjust="spacingAndGlyphs">0.04</text>
<text x="409.4" y="2433.4" font-size="17.6" textLength="34.3" lengthAdjust="spacingAndGlyphs">0.06</text>
<text x="519.5" y="2433.4" font-size="17.6" textLength="34.3" lengthAdjust="spacingAndGlyphs">0.08</text>
<text x="629.7" y="2433.4" font-size="17.6" textLength="34.3" lengthAdjust="spacingAndGlyphs">0.10</text>
<text x="739.9" y="2433.4" font-size="17.6" textLength="34.3" lengthAdjust="spacingAndGlyphs">0.12</text>
<text x="850.1" y="2433.4" font-size="17.6" textLength="34.3" lengthAdjust="spacingAndGlyphs">0.14</text>
<text x="76.9" y="2415.3" font-size="17.6" textLength="9.3" lengthAdjust="spacingAndGlyphs">5</text>
<text x="67.5" y="2292.7" font-size="17.6" textLength="18.7" lengthAdjust="spacingAndGlyphs">10</text>
<text x="67.5" y="2170.1" font-size="17.6" textLength="18.7" lengthAdjust="spacingAndGlyphs">15</text>
<text x="67.5" y="2047.6" font-size="17.6" textLength="18.7" lengthAdjust="spacingAndGlyphs">20</text>
<text x="67.5" y="1925" font-size="17.6" textLength="18.7" lengthAdjust="spacingAndGlyphs">25</text>
</g>
<g stroke="#000" stroke-width="0.7" stroke-linejoin="round">
<text x="432.8" y="2468" font-size="23.3" textLength="148.7" lengthAdjust="spacingAndGlyphs">Ammonia (ml)</text>
<text x="52.4" y="2238.7" font-size="23.3" textLength="146.3" lengthAdjust="spacingAndGlyphs" transform="rotate(-90 52.4 2238.7)">Methanol (ml)</text>
</g>
<text x="650.4" y="2024.7" font-size="20" textLength="40.3" lengthAdjust="spacingAndGlyphs">&gt;0.6</text>
<text x="574.5" y="2143" font-size="20" textLength="64.7" lengthAdjust="spacingAndGlyphs">0.5-0.6</text>
<text x="435" y="2202.8" font-size="20" textLength="64.5" lengthAdjust="spacingAndGlyphs">0.4-0.5</text>
<text x="399.4" y="2313.7" font-size="20" textLength="64.7" lengthAdjust="spacingAndGlyphs">0.3-0.4</text>
<text x="231.6" y="2386.4" font-size="20" textLength="64.3" lengthAdjust="spacingAndGlyphs">0.2-0.3</text>
<text x="97.1" y="2399.1" font-size="20" textLength="40.6" lengthAdjust="spacingAndGlyphs">&lt;0.2</text>
<text x="417.3" y="2023.3" font-size="31" textLength="239.6" lengthAdjust="spacingAndGlyphs">(G) R<tspan font-size="20" dy="6">f</tspan><tspan dy="-6"> (Colchicine)</tspan></text>
<rect x="969.2" y="1866.2" width="961.8" height="632.1" fill="#ebebeb"/>
<path d="M970 2498.3V1867H1931" fill="none" stroke="#d2d2d2" stroke-width="1.5"/>
<clipPath id="clipH"><rect x="1063.7" y="1922" width="822.9" height="488.2"/></clipPath>
<g clip-path="url(#clipH)">
<rect x="1063.7" y="1922" width="822.9" height="488.2" fill="#84ce92"/>
<polygon points="1377.3,1917 1377.3,1922 1375.5,1950.3 1373.5,2003.3 1372.6,2053.3 1373.5,2097.4 1375.5,2126.9 1374.4,2150.4 1372,2168.1 1367.6,2185.7 1360.2,2203.4 1352.9,2212.2 1336.7,2226.9 1320.5,2235.7 1302.8,2241.6 1298.4,2244.6 1277.8,2249.9 1239.6,2254.9 1180.7,2257.8 1121.9,2260.8 1058.7,2264.3 1058.7,1917" fill="#54b05c"/>
<polygon points="1242.5,1917 1245.5,1922 1260.2,1942.9 1270.5,1963.5 1277.8,1979.7 1285.2,2015 1285.8,2047.4 1280.8,2065.1 1271.9,2085.7 1264.6,2097.4 1254.3,2109.2 1238.1,2121 1216,2132.7 1183.7,2146 1151.3,2152.8 1121.9,2156.3 1058.7,2160.1 1058.7,1917" fill="#00841e"/>
<polygon points="1058.7,1935.6 1104.2,1942.9 1127.7,1949.7 1151.3,1962.1 1171.9,1975.3 1183.7,1988.5 1195.4,2009.1 1203.1,2026.2 1200.7,2047.4 1196.9,2062.1 1186.6,2076.8 1174.8,2088 1154.2,2097.4 1130.7,2106.3 1104.2,2113.6 1058.7,2117.2" fill="#006c02"/>
<polygon points="1609.4,1917 1601.4,1922 1575.5,1935.6 1546.1,1954.7 1516.6,1979.7 1504.9,1991.5 1494.6,2009.1 1488.7,2026.8 1486.3,2047.4 1489.6,2062.1 1502.5,2085.7 1519.6,2103.3 1546.1,2119.5 1572.5,2131.3 1599,2138 1628.5,2143.9 1652,2146.6 1710.9,2146.6 1740.3,2143 1766.8,2140.1 1793.3,2135.7 1819.7,2130.4 1828.6,2129.8 1858,2124.8 1891.6,2120.4 1891.6,1917" fill="#a6e6bc"/>
<polygon points="1058.7,2404 1089.5,2410 1095.4,2412.3 1058.7,2415.2" fill="#a6e6bc"/>
</g>
<rect x="1063.7" y="1922" width="822.9" height="488.2" fill="none" stroke="#a3a3a3" stroke-width="1.8"/>
<path d="M1063.7 2410.2v7M1173.4 2410.2v7M1283.1 2410.2v7M1392.9 2410.2v7M1502.6 2410.2v7M1612.3 2410.2v7M1722 2410.2v7M1831.7 2410.2v7M1063.7 2410.2h-5.3M1063.7 2288.1h-5.3M1063.7 2166.1h-5.3M1063.7 2044h-5.3M1063.7 1922h-5.3" stroke="#a3a3a3" stroke-width="1.6" fill="none"/>
<g stroke="#000" stroke-width="0.3">
<text x="1046.5" y="2433" font-size="17.6" textLength="34.3" lengthAdjust="spacingAndGlyphs">0.00</text>
<text x="1156.2" y="2433" font-size="17.6" textLength="34.3" lengthAdjust="spacingAndGlyphs">0.02</text>
<text x="1265.9" y="2433" font-size="17.6" textLength="34.3" lengthAdjust="spacingAndGlyphs">0.04</text>
<text x="1375.7" y="2433" font-size="17.6" textLength="34.3" lengthAdjust="spacingAndGlyphs">0.06</text>
<text x="1485.4" y="2433" font-size="17.6" textLength="34.3" lengthAdjust="spacingAndGlyphs">0.08</text>
<text x="1595.1" y="2433" font-size="17.6" textLength="34.3" lengthAdjust="spacingAndGlyphs">0.10</text>
<text x="1704.8" y="2433" font-size="17.6" textLength="34.3" lengthAdjust="spacingAndGlyphs">0.12</text>
<text x="1814.5" y="2433" font-size="17.6" textLength="34.3" lengthAdjust="spacingAndGlyphs">0.14</text>
<text x="1045.6" y="2414.9" font-size="17.6" textLength="9.3" lengthAdjust="spacingAndGlyphs">5</text>
<text x="1036.2" y="2292.8" font-size="17.6" textLength="18.7" lengthAdjust="spacingAndGlyphs">10</text>
<text x="1036.2" y="2170.8" font-size="17.6" textLength="18.7" lengthAdjust="spacingAndGlyphs">15</text>
<text x="1036.2" y="2048.8" font-size="17.6" textLength="18.7" lengthAdjust="spacingAndGlyphs">20</text>
<text x="1036.2" y="1926.7" font-size="17.6" textLength="18.7" lengthAdjust="spacingAndGlyphs">25</text>
</g>
<g stroke="#000" stroke-width="0.7" stroke-linejoin="round">
<text x="1398.8" y="2466.8" font-size="23.3" textLength="148.7" lengthAdjust="spacingAndGlyphs">Ammonia (ml)</text>
<text x="1019.7" y="2238.7" font-size="23.3" textLength="145.7" lengthAdjust="spacingAndGlyphs" transform="rotate(-90 1019.7 2238.7)">Methanol (ml)</text>
</g>
<text x="1069.8" y="2031.2" font-size="20" textLength="87.4" lengthAdjust="spacingAndGlyphs">0.50-0.55</text>
<text x="1125.4" y="2128.3" font-size="20" textLength="87.1" lengthAdjust="spacingAndGlyphs">0.45-0.50</text>
<text x="1200.4" y="2191" font-size="20" textLength="87.1" lengthAdjust="spacingAndGlyphs">0.40-0.45</text>
<text x="1509.9" y="2204.3" font-size="20" textLength="87.7" lengthAdjust="spacingAndGlyphs">0.35-0.40</text>
<text x="1672.6" y="2040.9" font-size="20" textLength="51.5" lengthAdjust="spacingAndGlyphs">&lt;0.35</text>
<text x="1381.4" y="2026.8" font-size="31" textLength="236.2" lengthAdjust="spacingAndGlyphs">(H) R<tspan font-size="20" dy="6">f</tspan><tspan dy="-6"> (Probencid)</tspan></text>
</svg>
</body></html>
